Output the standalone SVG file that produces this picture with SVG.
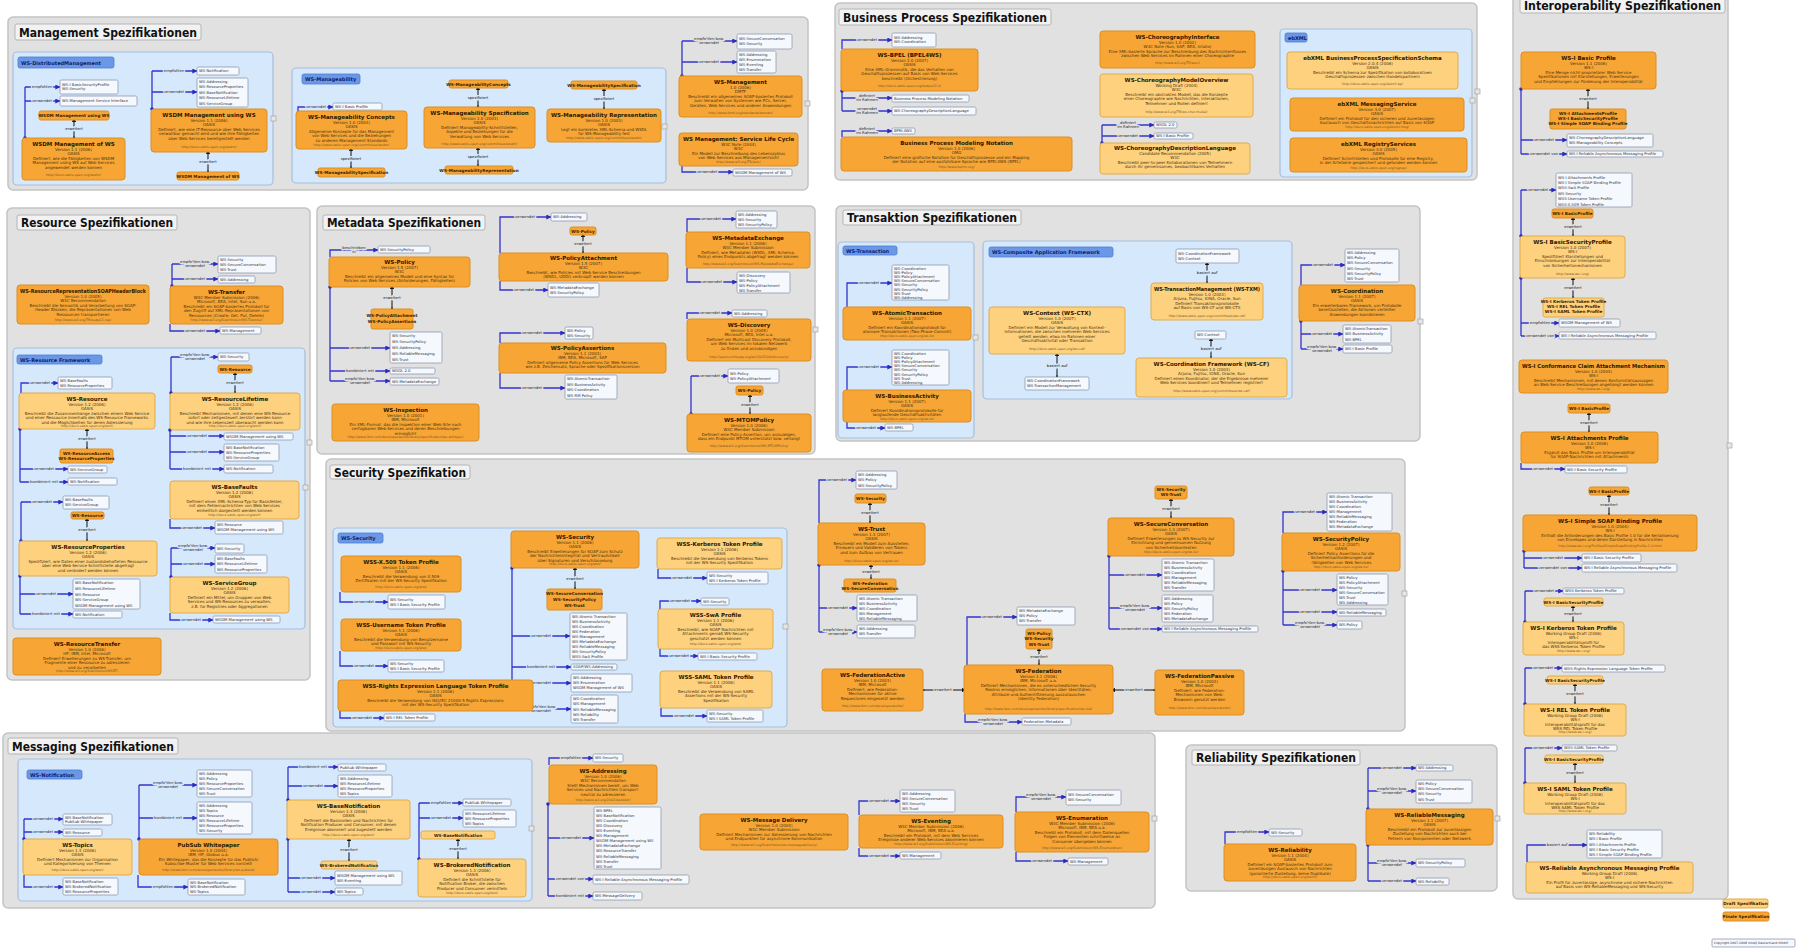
<svg xmlns="http://www.w3.org/2000/svg" width="1797" height="948" viewBox="0 0 1797 948">
<style>
.p{fill:#e1e1e1;stroke:#c3c3c3;stroke-width:1.5}
.ph{fill:#f2f2f2;stroke:#b5b5b5;stroke-width:1}
.s{fill:#d6e8fc;stroke:#a6bfdc;stroke-width:1.2}
.sl{fill:#6a98e6;stroke:#4f7fd0;stroke-width:.8}
.f{fill:#f7a635;stroke:#dc8e22;stroke-width:1}
.d{fill:#fdd17e;stroke:#e0ab4c;stroke-width:1}
.r{fill:#f5f9fd;stroke:#8d9aae;stroke-width:.8}
.cl{fill:#e6e6e6;stroke:#9a9a9a;stroke-width:.6}
.c{fill:none;stroke:#3434cc;stroke-width:1.3}
.k{fill:none;stroke:#111;stroke-width:1}
text{font-family:"DejaVu Sans","Liberation Sans",sans-serif}
.pt{font-size:12px;font-weight:bold;fill:#111}
.st{font-size:5px;font-weight:bold;fill:#10206a}
.t{font-size:5.5px;font-weight:bold;fill:#2a1800;text-anchor:middle}
.x{font-size:4px;fill:#4a3210;text-anchor:middle}
.u{font-size:3.3px;fill:#7a5424;text-anchor:middle}
.sm{font-size:4.2px;font-weight:bold;fill:#3a2200;text-anchor:middle}
.rt{font-size:3.8px;fill:#334}
.cp{font-size:3.1px;fill:#334}
.lg{font-size:3.8px;fill:#223;text-anchor:middle;paint-order:stroke;stroke:#e1e1e1;stroke-width:2.4}
.lb{font-size:3.8px;fill:#223;text-anchor:middle;paint-order:stroke;stroke:#d6e8fc;stroke-width:2.4}
.kl{font-size:3.8px;fill:#111;text-anchor:middle;paint-order:stroke;stroke:#e1e1e1;stroke-width:2.4}
.kb{font-size:3.8px;fill:#111;text-anchor:middle;paint-order:stroke;stroke:#d6e8fc;stroke-width:2.4}
</style>
<defs>
<marker id="a" viewBox="0 0 8 8" refX="7.5" refY="4" markerUnits="userSpaceOnUse" markerWidth="5" markerHeight="5" orient="auto"><path d="M0,0L8,4L0,8z" fill="#2a2ac0"/></marker>
<marker id="o" viewBox="0 0 6 6" refX="3" refY="3" markerUnits="userSpaceOnUse" markerWidth="3.6" markerHeight="3.6"><circle cx="3" cy="3" r="3" fill="#2a2ac0"/></marker>
<marker id="b" viewBox="0 0 8 8" refX="4" refY="4" markerUnits="userSpaceOnUse" markerWidth="4.5" markerHeight="4.5" orient="auto"><path d="M0,0L8,4L0,8z" fill="#111"/></marker>
</defs>
<rect width="1797" height="948" fill="#ffffff"/>

<!-- PANELS -->
<g id="panels">
<rect class="p" x="8" y="17" width="800" height="173" rx="5"/>
<rect class="ph" x="15" y="24" width="186" height="16" rx="2"/>
<text class="pt" x="19" y="36.5" textLength="178" lengthAdjust="spacingAndGlyphs">Management Spezifikationen</text>
<rect class="s" x="13" y="52" width="260" height="133" rx="4"/>
<rect class="sl" x="18" y="57" width="96" height="11" rx="2"/>
<text class="st" x="21" y="64.5">WS-DistributedManagement</text>
<rect class="s" x="292" y="68" width="374" height="115" rx="4"/>
<rect class="sl" x="302" y="74" width="58" height="10" rx="2"/>
<text class="st" x="305" y="81">WS-Manageability</text>

<rect class="p" x="835" y="3" width="642" height="177" rx="5"/>
<rect class="ph" x="839" y="9" width="212" height="16" rx="2"/>
<text class="pt" x="843" y="21.5" textLength="204" lengthAdjust="spacingAndGlyphs">Business Process Spezifikationen</text>
<rect class="s" x="1280" y="29" width="192" height="148" rx="4"/>
<rect class="sl" x="1285" y="33" width="22" height="9" rx="2"/>
<text class="st" x="1288" y="39.5">ebXML</text>

<rect class="p" x="1513" y="-4" width="215" height="903" rx="5"/>
<rect class="ph" x="1520" y="-2" width="205" height="15" rx="2"/>
<text class="pt" x="1524" y="9.5" textLength="197" lengthAdjust="spacingAndGlyphs">Interoperability Spezifikationen</text>

<rect class="p" x="7" y="208" width="303" height="472" rx="5"/>
<rect class="ph" x="17" y="215" width="160" height="15" rx="2"/>
<text class="pt" x="21" y="227" textLength="152" lengthAdjust="spacingAndGlyphs">Resource Spezifikationen</text>
<rect class="s" x="13" y="348" width="292" height="281" rx="4"/>
<rect class="sl" x="17" y="355" width="85" height="9" rx="2"/>
<text class="st" x="20" y="361.5">WS-Resource Framework</text>

<rect class="p" x="317" y="206" width="498" height="248" rx="5"/>
<rect class="ph" x="323" y="215" width="162" height="15" rx="2"/>
<text class="pt" x="327" y="227" textLength="154" lengthAdjust="spacingAndGlyphs">Metadata Spezifikationen</text>

<rect class="p" x="836" y="206" width="584" height="235" rx="5"/>
<rect class="ph" x="843" y="210" width="178" height="15" rx="2"/>
<text class="pt" x="847" y="222" textLength="170" lengthAdjust="spacingAndGlyphs">Transaktion Spezifikationen</text>
<rect class="s" x="838" y="242" width="136" height="196" rx="4"/>
<rect class="sl" x="843" y="246" width="54" height="9" rx="2"/>
<text class="st" x="846" y="252.5">WS-Transaction</text>
<rect class="s" x="983" y="241" width="309" height="158" rx="4"/>
<rect class="sl" x="989" y="247" width="124" height="10" rx="2"/>
<text class="st" x="992" y="254">WS-Composite Application Framework</text>

<rect class="p" x="326" y="459" width="1079" height="272" rx="5"/>
<rect class="ph" x="330" y="465" width="140" height="14" rx="2"/>
<text class="pt" x="334" y="476.5" textLength="132" lengthAdjust="spacingAndGlyphs">Security Spezifikation</text>
<rect class="s" x="333" y="528" width="454" height="199" rx="4"/>
<rect class="sl" x="338" y="533" width="45" height="10" rx="2"/>
<text class="st" x="341" y="540">WS-Security</text>

<rect class="p" x="3" y="733" width="1152" height="175" rx="5"/>
<rect class="ph" x="8" y="738" width="170" height="16" rx="2"/>
<text class="pt" x="12" y="750.5" textLength="162" lengthAdjust="spacingAndGlyphs">Messaging Spezifikationen</text>
<rect class="s" x="18" y="759" width="514" height="142" rx="4"/>
<rect class="sl" x="27" y="770" width="55" height="9" rx="2"/>
<text class="st" x="30" y="776.5">WS-Notification</text>

<rect class="p" x="1186" y="745" width="311" height="146" rx="5"/>
<rect class="ph" x="1192" y="750" width="168" height="15" rx="2"/>
<text class="pt" x="1196" y="762" textLength="160" lengthAdjust="spacingAndGlyphs">Reliability Spezifikationen</text>

<rect class="cl" x="271" y="116" width="5" height="5"/><rect class="cl" x="662" y="124" width="5" height="5"/><rect class="cl" x="805" y="101" width="5" height="5"/>
<rect class="cl" x="1475" y="89" width="5" height="5"/><rect class="cl" x="1470" y="98" width="5" height="5"/>
<rect class="cl" x="1727" y="443" width="5" height="5"/>
<rect class="cl" x="303" y="485" width="5" height="5"/><rect class="cl" x="307" y="440" width="5" height="5"/>
<rect class="cl" x="813" y="327" width="5" height="5"/>
<rect class="cl" x="973" y="335" width="5" height="5"/><rect class="cl" x="1418" y="319" width="5" height="5"/>
<rect class="cl" x="783" y="624" width="5" height="5"/><rect class="cl" x="1402" y="591" width="5" height="5"/>
<rect class="cl" x="529" y="826" width="5" height="5"/><rect class="cl" x="1152" y="816" width="5" height="5"/>
<rect class="cl" x="1495" y="816" width="5" height="5"/>
</g>

<!-- CONNECTORS -->
<g id="connectors">
<g class="c" marker-end="url(#a)">
<path d="M25,87H60"/><path d="M25,101H60"/><path d="M152,71H197"/><path d="M152,92H197"/>
<path d="M298,111V107H333"/><path d="M682,41H737"/><path d="M682,62H737"/><path d="M682,166V172H733"/>
<path d="M842,49V40H892"/><path d="M842,98H892"/><path d="M842,111H892"/><path d="M842,137V131H892"/>
<path d="M1102,125H1154"/><path d="M1102,136H1154"/>
<path d="M1521,140H1567"/><path d="M1521,154H1567"/><path d="M1521,190H1556"/><path d="M1521,323H1559"/><path d="M1521,336H1559"/>
<path d="M1521,463V469H1565"/><path d="M1524,558H1582"/><path d="M1524,568H1582"/><path d="M1525,591H1563"/>
<path d="M1525,668H1562"/><path d="M1525,748H1562"/><path d="M1527,862V845H1587"/>
<path d="M172,264H218"/><path d="M172,279H218"/><path d="M170,324V331H220"/><path d="M21,393V383H58"/>
<path d="M20,469H68"/><path d="M20,482H68"/><path d="M21,502H63"/><path d="M20,594H73"/><path d="M20,614H73"/>
<path d="M171,357H218"/><path d="M170,436H224"/><path d="M170,452H224"/><path d="M170,469H224"/>
<path d="M170,519V528H215"/><path d="M171,548H215"/><path d="M171,564H215"/><path d="M170,613V620H213"/>
<path d="M330,257V250H378"/><path d="M330,348H390"/><path d="M330,371H390"/><path d="M330,381H390"/>
<path d="M500,253V217H551"/><path d="M500,281V290H548"/><path d="M500,343V333H565"/><path d="M500,373V388H565"/>
<path d="M687,232V219H736"/><path d="M687,268V282H737"/><path d="M687,319V313H732"/><path d="M691,376H728"/>
<path d="M847,307V283H892"/><path d="M847,390V367H892"/><path d="M847,422V428H885"/>
<path d="M1301,285V265H1345"/><path d="M1301,334H1343"/><path d="M1301,349H1343"/>
<path d="M340,592V602H388"/><path d="M340,651V666H388"/><path d="M340,711V718H384"/>
<path d="M512,636H570"/><path d="M512,667H571"/><path d="M512,683H571"/><path d="M512,709H571"/>
<path d="M658,569V578H707"/><path d="M660,609V601H701"/><path d="M660,649V656H698"/><path d="M661,708V716H707"/>
<path d="M819,523V480H856"/><path d="M819,608H857"/><path d="M819,632H857"/>
<path d="M1109,575H1162"/><path d="M1109,608H1162"/><path d="M1109,629H1162"/>
<path d="M1283,533V512H1327"/><path d="M1283,590H1337"/><path d="M1283,612H1337"/><path d="M1283,625H1337"/>
<path d="M967,665V617H1017"/><path d="M965,714V722H1022"/>
<path d="M24,819H63"/><path d="M24,832H63"/><path d="M24,875V887H63"/>
<path d="M139,785H197"/><path d="M139,818H197"/><path d="M138,875V887H188"/>
<path d="M288,767H338"/><path d="M288,786H338"/><path d="M288,878H335"/><path d="M288,892H335"/>
<path d="M419,803H463"/><path d="M419,818H463"/>
<path d="M549,765V758H593"/><path d="M548,838H594"/><path d="M548,879H593"/><path d="M548,896H593"/>
<path d="M859,815V801H900"/><path d="M859,848V856H900"/><path d="M1016,812V797H1066"/><path d="M1016,852V861H1068"/>
<path d="M1225,844V832H1269"/><path d="M1368,768H1416"/><path d="M1368,791H1416"/><path d="M1368,863H1416"/><path d="M1368,881H1416"/>
</g>
<g class="c" marker-start="url(#o)">
<path d="M25,138V87"/><path d="M152,109V71"/><path d="M682,76V41"/><path d="M842,91V111"/><path d="M1102,143V125"/>
<path d="M1521,89V154"/><path d="M1521,236V190"/><path d="M1521,278V336"/><path d="M1524,551V568"/><path d="M1525,622V591"/>
<path d="M1525,704V668"/><path d="M1525,783V748"/>
<path d="M172,286V264"/><path d="M20,429V482"/><path d="M21,541V502"/><path d="M20,576V614"/><path d="M171,393V357"/>
<path d="M170,430V469"/><path d="M171,577V548"/><path d="M330,287V381"/><path d="M691,414V376"/>
<path d="M1301,321V349"/><path d="M512,568V709"/><path d="M819,565V632"/><path d="M1109,556V629"/><path d="M1283,571V625"/>
<path d="M24,839V819"/><path d="M139,839V785"/><path d="M288,800V767"/><path d="M288,839V892"/><path d="M419,859V803"/>
<path d="M548,804V896"/><path d="M1368,809V768"/><path d="M1368,845V881"/>
</g>
<g class="k" marker-start="url(#b)" marker-end="url(#b)">
<path d="M74,138V120"/><path d="M208,172V152"/><path d="M351,168V149"/><path d="M478,107V88"/><path d="M478,166V148"/><path d="M604,109V89"/>
<path d="M1588,109V89"/><path d="M1573,236V218"/><path d="M1573,298V278"/><path d="M1589,432V413"/><path d="M1609,515V495"/>
<path d="M1573,622V606"/><path d="M1575,704V684"/><path d="M1575,783V763"/>
<path d="M87,449V429"/><path d="M87,541V519"/><path d="M235,393V373"/>
<path d="M392,309V287"/><path d="M583,253V235"/><path d="M750,414V395"/>
<path d="M1207,283V263"/><path d="M1057,377V354"/><path d="M1211,358V339"/>
<path d="M575,589V568"/><path d="M870,523V503"/><path d="M871,579V565"/><path d="M1171,518V499"/><path d="M1039,665V649"/>
<path d="M923,690H964"/><path d="M1155,690H1113"/>
<path d="M349,861V839"/><path d="M458,859V839"/>
</g>
<!-- labels -->
<text class="lb" x="42" y="88.4">empfohlen</text><text class="lb" x="42" y="102.4">verwendet</text>
<text class="lb" x="174" y="72.4">empfohlen</text><text class="lb" x="174" y="93.4">verwendet</text>
<text class="lb" x="316" y="108.4">verwendet</text>
<text class="lg" x="709" y="40"><tspan x="709">empfohlen bzw.</tspan><tspan x="709" dy="4.2">verwendet</tspan></text>
<text class="lg" x="709" y="63.4">verwendet</text><text class="lg" x="707" y="173.4">verwendet</text>
<text class="lg" x="867" y="41.4">verwendet</text>
<text class="lg" x="867" y="97"><tspan x="867">definiert</tspan><tspan x="867" dy="4.2">im Rahmen</tspan></text>
<text class="lg" x="867" y="110"><tspan x="867">verwendet</tspan><tspan x="867" dy="4.2">im Rahmen</tspan></text>
<text class="lg" x="867" y="130"><tspan x="867">definiert</tspan><tspan x="867" dy="4.2">im Rahmen</tspan></text>
<text class="lg" x="1128" y="124"><tspan x="1128">definiert</tspan><tspan x="1128" dy="4.2">im Rahmen</tspan></text>
<text class="lg" x="1128" y="137.4">verwendet</text>
<text class="lg" x="1544" y="141.4">verwendet</text><text class="lg" x="1544" y="155.4">verwendet von</text>
<text class="lg" x="1538" y="191.4">verwendet</text><text class="lg" x="1540" y="324.4">empfohlen</text><text class="lg" x="1540" y="337.4">verwendet von</text>
<text class="lg" x="1543" y="470.4">verwendet</text><text class="lg" x="1553" y="559.4">verwendet</text><text class="lg" x="1553" y="569.4">verwendet von</text>
<text class="lg" x="1544" y="592.4">verwendet</text><text class="lg" x="1543" y="669.4">verwendet</text><text class="lg" x="1543" y="749.4">verwendet</text>
<text class="lg" x="1557" y="846.4">basiert auf</text>
<text class="lg" x="195" y="263"><tspan x="195">empfohlen bzw.</tspan><tspan x="195" dy="4.2">verwendet</tspan></text>
<text class="lg" x="195" y="280.4">verwendet</text><text class="lg" x="195" y="332.4">verwendet</text>
<text class="lb" x="40" y="384.4">verwendet</text><text class="lb" x="44" y="470.4">verwendet</text><text class="lb" x="44" y="483.4">kombiniert mit</text>
<text class="lb" x="42" y="503.4">verwendet</text><text class="lb" x="46" y="595.4">verwendet</text><text class="lb" x="46" y="615.4">kombiniert mit</text>
<text class="lb" x="195" y="356"><tspan x="195">empfohlen bzw.</tspan><tspan x="195" dy="4.2">verwendet</tspan></text>
<text class="lb" x="197" y="437.4">verwendet</text><text class="lb" x="197" y="453.4">verwendet</text><text class="lb" x="197" y="470.4">kombiniert mit</text>
<text class="lb" x="192" y="529.4">verwendet</text>
<text class="lb" x="193" y="547"><tspan x="193">empfohlen bzw.</tspan><tspan x="193" dy="4.2">verwendet</tspan></text>
<text class="lb" x="193" y="565.4">verwendet</text><text class="lb" x="191" y="621.4">verwendet</text>
<text class="lg" x="354" y="249"><tspan x="354">beschrieben</tspan><tspan x="354" dy="4.2">in</tspan></text>
<text class="lg" x="360" y="349.4">verwendet</text><text class="lg" x="360" y="372.4">kombiniert mit</text>
<text class="lg" x="360" y="380"><tspan x="360">empfohlen bzw.</tspan><tspan x="360" dy="4.2">verwendet</tspan></text>
<text class="lg" x="525" y="218.4">verwendet</text><text class="lg" x="524" y="291.4">verwendet</text>
<text class="lg" x="532" y="334.4">verwendet</text><text class="lg" x="532" y="389.4">verwendet</text>
<text class="lg" x="711" y="220.4">verwendet</text><text class="lg" x="712" y="283.4">verwendet</text>
<text class="lg" x="710" y="314.4">verwendet</text><text class="lg" x="710" y="377.4">verwendet</text>
<text class="lb" x="869" y="284.4">verwendet</text><text class="lb" x="869" y="368.4">verwendet</text><text class="lb" x="866" y="429.4">verwendet</text>
<text class="lg" x="1323" y="266.4">verwendet</text><text class="lg" x="1322" y="335.4">verwendet</text>
<text class="lg" x="1322" y="348"><tspan x="1322">empfohlen bzw.</tspan><tspan x="1322" dy="4.2">verwendet</tspan></text>
<text class="lb" x="364" y="603.4">verwendet</text><text class="lb" x="364" y="667.4">verwendet</text><text class="lb" x="362" y="719.4">verwendet</text>
<text class="lb" x="541" y="637.4">verwendet</text><text class="lb" x="541" y="668.4">kombiniert mit</text><text class="lb" x="541" y="684.4">verwendet</text>
<text class="lb" x="541" y="708"><tspan x="541">empfohlen bzw.</tspan><tspan x="541" dy="4.2">verwendet</tspan></text>
<text class="lb" x="682" y="579.4">verwendet</text><text class="lb" x="680" y="602.4">verwendet</text>
<text class="lb" x="679" y="657.4">verwendet</text><text class="lb" x="684" y="717.4">verwendet</text>
<text class="lg" x="837" y="481.4">verwendet</text><text class="lg" x="838" y="609.4">verwendet</text>
<text class="lg" x="838" y="631"><tspan x="838">empfohlen bzw.</tspan><tspan x="838" dy="4.2">verwendet</tspan></text>
<text class="lg" x="1135" y="576.4">verwendet</text>
<text class="lg" x="1135" y="607"><tspan x="1135">empfohlen bzw.</tspan><tspan x="1135" dy="4.2">verwendet</tspan></text>
<text class="lg" x="1135" y="630.4">verwendet von</text>
<text class="lg" x="1305" y="513.4">verwendet</text><text class="lg" x="1310" y="591.4">verwendet</text><text class="lg" x="1310" y="613.4">verwendet</text>
<text class="lg" x="1310" y="624"><tspan x="1310">empfohlen bzw.</tspan><tspan x="1310" dy="4.2">verwendet</tspan></text>
<text class="lg" x="992" y="618.4">verwendet</text>
<text class="lg" x="993" y="721"><tspan x="993">empfohlen bzw.</tspan><tspan x="993" dy="4.2">verwendet</tspan></text>
<text class="lb" x="43" y="820.4">verwendet</text><text class="lb" x="43" y="833.4">verwendet</text><text class="lb" x="43" y="888.4">verwendet</text>
<text class="lb" x="168" y="784"><tspan x="168">empfohlen bzw.</tspan><tspan x="168" dy="4.2">verwendet</tspan></text>
<text class="lb" x="168" y="819.4">kombiniert mit</text><text class="lb" x="163" y="888.4">empfohlen</text>
<text class="lb" x="313" y="768.4">kombiniert mit</text><text class="lb" x="313" y="787.4">verwendet</text>
<text class="lb" x="311" y="879.4">verwendet</text><text class="lb" x="311" y="893.4">verwendet</text>
<text class="lb" x="441" y="804.4">empfohlen</text><text class="lb" x="441" y="819.4">verwendet</text>
<text class="lg" x="571" y="759.4">empfohlen</text><text class="lg" x="571" y="839.4">verwendet</text>
<text class="lg" x="570" y="880.4">verwendet von</text><text class="lg" x="570" y="897.4">kombiniert mit</text>
<text class="lg" x="879" y="802.4">verwendet</text><text class="lg" x="879" y="857.4">verwendet</text>
<text class="lg" x="1041" y="796"><tspan x="1041">empfohlen bzw.</tspan><tspan x="1041" dy="4.2">verwendet</tspan></text>
<text class="lg" x="1042" y="862.4">verwendet</text>
<text class="lg" x="1247" y="833.4">empfohlen</text><text class="lg" x="1392" y="769.4">verwendet</text>
<text class="lg" x="1392" y="790"><tspan x="1392">empfohlen bzw.</tspan><tspan x="1392" dy="4.2">verwendet</tspan></text>
<text class="lg" x="1392" y="862"><tspan x="1392">empfohlen bzw.</tspan><tspan x="1392" dy="4.2">verwendet</tspan></text>
<text class="lg" x="1392" y="882.4">verwendet</text>
<!-- black labels -->
<text class="kb" x="74" y="130.4">erweitert</text><text class="kb" x="208" y="163.4">erweitert</text>
<text class="kb" x="351" y="159.9">spezifiziert</text><text class="kb" x="478" y="98.9">spezifiziert</text><text class="kb" x="478" y="158.4">spezifiziert</text><text class="kb" x="604" y="100.4">spezifiziert</text>
<text class="kl" x="1588" y="100.4">erweitert</text><text class="kl" x="1573" y="228.4">erweitert</text><text class="kl" x="1573" y="289.4">erweitert</text>
<text class="kl" x="1589" y="423.9">erweitert</text><text class="kl" x="1609" y="506.4">erweitert</text><text class="kl" x="1573" y="615.4">erweitert</text>
<text class="kl" x="1575" y="695.4">erweitert</text><text class="kl" x="1575" y="774.4">erweitert</text>
<text class="kb" x="87" y="440.4">erweitert</text><text class="kb" x="87" y="531.4">erweitert</text><text class="kb" x="235" y="384.4">erweitert</text>
<text class="kl" x="392" y="299.4">erweitert</text><text class="kl" x="583" y="245.4">erweitert</text><text class="kl" x="750" y="406">erweitert</text>
<text class="kb" x="1207" y="274.4">basiert auf</text><text class="kb" x="1057" y="366.9">basiert auf</text><text class="kb" x="1211" y="349.9">basiert auf</text>
<text class="kb" x="575" y="579.9">erweitert</text><text class="kl" x="870" y="514.4">erweitert</text><text class="kl" x="871" y="573.4">erweitert</text>
<text class="kl" x="1171" y="509.9">erweitert</text><text class="kl" x="1039" y="658.4">erweitert</text>
<text class="kl" x="943" y="691.4">erweitert</text><text class="kl" x="1134" y="691.4">erweitert</text>
<text class="kb" x="349" y="851.4">erweitert</text><text class="kb" x="458" y="850.4">erweitert</text>
</g>

<!-- MANAGEMENT NODES -->
<g id="n-mg-r1"><rect class="r" x="60" y="80" width="58" height="14" rx="1.5"/><text class="rt" x="62" y="85.5">WS-I BasicSecurityProfile<tspan x="62" dy="4.6">WS-Security</tspan></text></g>
<g id="n-mg-r2"><rect class="r" x="60" y="96" width="77" height="10" rx="1.5"/><text class="rt" x="62" y="102.3">WS-Management Service Interface</text></g>
<g id="n-mg-s1"><rect class="f" x="39" y="111" width="70" height="9" rx="2"/><text class="sm" x="74" y="117">WSDM Management using WS</text></g>
<g id="n-mows"><rect class="f" x="22" y="138" width="103" height="42" rx="3"/><text class="t" x="73.5" y="145.5">WSDM Management of WS</text><text class="x" x="73.5" y="150.5">Version 1.1 (2006)<tspan x="73.5" dy="4.5">OASIS</tspan><tspan x="73.5" dy="4.5">Definiert, wie die Fähigkeiten von WSDM</tspan><tspan x="73.5" dy="4.5">Management using WS auf Web Services</tspan><tspan x="73.5" dy="4.5">angewendet werden können</tspan></text><text class="u" x="73.5" y="175.5">http://docs.oasis-open.org/wsdm/</text></g>
<g id="n-mg-r3"><rect class="r" x="197" y="67" width="42" height="8" rx="1.5"/><text class="rt" x="199" y="72.4">WS-Notification</text></g>
<g id="n-mg-r4"><rect class="r" x="197" y="78" width="51" height="29" rx="1.5"/><text class="rt" x="199" y="83">WS-Addressing<tspan x="199" dy="5.4">WS-ResourceProperties</tspan><tspan x="199" dy="5.4">WS-BaseNotification</tspan><tspan x="199" dy="5.4">WS-ResourceLifetime</tspan><tspan x="199" dy="5.4">WS-ServiceGroup</tspan></text></g>
<g id="n-muws"><rect class="f" x="151" y="109" width="116" height="43" rx="3"/><text class="t" x="209" y="116.5">WSDM Management using WS</text><text class="x" x="209" y="121.5">Version 1.1 (2006)<tspan x="209" dy="4.5">OASIS</tspan><tspan x="209" dy="4.5">Definiert, wie eine IT-Ressource über Web Services</tspan><tspan x="209" dy="4.5">verwaltbar gemacht wird und wie ihre Fähigkeiten</tspan><tspan x="209" dy="4.5">über Web Services bereitgestellt werden</tspan></text><text class="u" x="209" y="147.5">http://docs.oasis-open.org/wsdm/</text></g>
<g id="n-mg-s2"><rect class="f" x="177" y="172" width="62" height="8" rx="2"/><text class="sm" x="208" y="177.6">WSDM Management of WS</text></g>
<g id="n-ma-r1"><rect class="r" x="333" y="103" width="49" height="7" rx="1.5"/><text class="rt" x="335" y="107.9">WS-I Basic Profile</text></g>
<g id="n-ma-conc"><rect class="f" x="296" y="111" width="111" height="38" rx="3"/><text class="t" x="351.5" y="118.5">WS-Manageability Concepts</text><text class="x" x="351.5" y="123.5">Version 1.0 (2003)<tspan x="351.5" dy="4.5">OASIS</tspan><tspan x="351.5" dy="4.5">Allgemeine Konzepte für das Management</tspan><tspan x="351.5" dy="4.5">von Web Services und die Beziehungen</tspan><tspan x="351.5" dy="4.5">zu anderen Management-Standards</tspan></text><text class="u" x="351.5" y="145.5">http://www.oasis-open.org/committees/wsdm/</text></g>
<g id="n-ma-s1"><rect class="f" x="318" y="168" width="67" height="9" rx="2"/><text class="sm" x="351.5" y="174">WS-ManageabilitySpecification</text></g>
<g id="n-ma-s2"><rect class="f" x="449" y="80" width="59" height="8" rx="2"/><text class="sm" x="478.5" y="85.6">WS-ManageabilityConcepts</text></g>
<g id="n-ma-spec"><rect class="f" x="424" y="107" width="111" height="41" rx="3"/><text class="t" x="479.5" y="114.5">WS-Manageability Specification</text><text class="x" x="479.5" y="119.5">Version 1.0 (2003)<tspan x="479.5" dy="4.5">OASIS</tspan><tspan x="479.5" dy="4.5">Definiert Manageability-Schnittstellen,</tspan><tspan x="479.5" dy="4.5">Aspekte und Beziehungen für die</tspan><tspan x="479.5" dy="4.5">Verwaltung von Web Services</tspan></text><text class="u" x="479.5" y="144.5">http://www.oasis-open.org/committees/wsdm/</text></g>
<g id="n-ma-s3"><rect class="f" x="445" y="166" width="68" height="8" rx="2"/><text class="sm" x="479" y="171.6">WS-ManageabilityRepresentation</text></g>
<g id="n-ma-s4"><rect class="f" x="571" y="81" width="66" height="8" rx="2"/><text class="sm" x="604" y="86.6">WS-ManageabilitySpecification</text></g>
<g id="n-ma-rep"><rect class="f" x="547" y="109" width="114" height="33" rx="3"/><text class="t" x="604" y="116.5">WS-Manageability Representation</text><text class="x" x="604" y="121.5">Version 1.0 (2003)<tspan x="604" dy="4.5">OASIS</tspan><tspan x="604" dy="4.5">Legt ein konkretes XML-Schema und WSDL</tspan><tspan x="604" dy="4.5">für WS-Manageability fest</tspan></text><text class="u" x="604" y="139">http://www.oasis-open.org/committees/wsdm/</text></g>
<g id="n-wsman-r1"><rect class="r" x="737" y="34" width="55" height="15" rx="1.5"/><text class="rt" x="739" y="40">WS-SecureConversation<tspan x="739" dy="5">WS-Security</tspan></text></g>
<g id="n-wsman-r2"><rect class="r" x="737" y="51" width="39" height="22" rx="1.5"/><text class="rt" x="739" y="56.3">WS-Addressing<tspan x="739" dy="5">WS-Enumeration</tspan><tspan x="739" dy="5">WS-Eventing</tspan><tspan x="739" dy="5">WS-Transfer</tspan></text></g>
<g id="n-wsman"><rect class="f" x="679" y="76" width="123" height="41" rx="3"/><text class="t" x="740.5" y="83.5">WS-Management</text><text class="x" x="740.5" y="88.5">1.0 (2006)<tspan x="740.5" dy="4.5">DMTF</tspan><tspan x="740.5" dy="4.5">Beschreibt ein allgemeines SOAP-basiertes Protokoll</tspan><tspan x="740.5" dy="4.5">zum Verwalten von Systemen wie PCs, Server,</tspan><tspan x="740.5" dy="4.5">Geräten, Web Services und anderer Anwendungen</tspan></text><text class="u" x="740.5" y="113.5">http://www.dmtf.org/standards/wsman/</text></g>
<g id="n-wslc"><rect class="f" x="679" y="133" width="119" height="33" rx="3"/><text class="t" x="738.5" y="140.5">WS Management: Service Life Cycle</text><text class="x" x="738.5" y="145.5">W3C Note (2004)<tspan x="738.5" dy="4.5">W3C</tspan><tspan x="738.5" dy="4.5">Ein Modell zur Beschreibung des Lebenszyklus</tspan><tspan x="738.5" dy="4.5">von Web Services aus Managementsicht</tspan></text><text class="u" x="738.5" y="162.5">http://www.w3.org/TR/wslc/</text></g>
<g id="n-wslc-r"><rect class="r" x="733" y="169" width="59" height="7" rx="1.5"/><text class="rt" x="735" y="173.9">WSDM Management of WS</text></g>

<!-- BUSINESS PROCESS NODES -->
<g id="n-bpel-r"><rect class="r" x="892" y="33" width="44" height="14" rx="1.5"/><text class="rt" x="894" y="38.6">WS-Addressing<tspan x="894" dy="4.6">WS-Coordination</tspan></text></g>
<g id="n-bpel"><rect class="f" x="841" y="49" width="137" height="42" rx="3"/><text class="t" x="909.5" y="56.5">WS-BPEL (BPEL4WS)</text><text class="x" x="909.5" y="61.5">Version 2.0 (2007)<tspan x="909.5" dy="4.5">OASIS</tspan><tspan x="909.5" dy="4.5">Eine XML-Grammatik, die das Verhalten von</tspan><tspan x="909.5" dy="4.5">Geschäftsprozessen auf Basis von Web Services</tspan><tspan x="909.5" dy="4.5">beschreibt (Orchestrierung)</tspan></text><text class="u" x="909.5" y="87">http://docs.oasis-open.org/wsbpel/2.0/</text></g>
<g id="n-bpel-r2"><rect class="r" x="892" y="95" width="77" height="7" rx="1.5"/><text class="rt" x="894" y="99.9">Business Process Modeling Notation</text></g>
<g id="n-bpel-r3"><rect class="r" x="892" y="107" width="84" height="8" rx="1.5"/><text class="rt" x="894" y="112.4">WS-ChoreographyDescriptionLanguage</text></g>
<g id="n-bpmn-r"><rect class="r" x="892" y="128" width="23" height="6" rx="1.5"/><text class="rt" x="894" y="132.4">BPEL4WS</text></g>
<g id="n-bpmn"><rect class="f" x="841" y="137" width="231" height="34" rx="3"/><text class="t" x="956.5" y="144.5">Business Process Modeling Notation</text><text class="x" x="956.5" y="149.5">Version 1.0 (2006)<tspan x="956.5" dy="4.5">OMG</tspan><tspan x="956.5" dy="4.5">Definiert eine grafische Notation für Geschäftsprozesse und ein Mapping</tspan><tspan x="956.5" dy="4.5">der Notation auf eine ausführbare Sprache wie BPEL4WS (BPEL)</tspan></text><text class="u" x="956.5" y="167.5">http://www.bpmn.org/</text></g>
<g id="n-wsci"><rect class="f" x="1100" y="31" width="155" height="37" rx="3"/><text class="t" x="1177.5" y="38.5">WS-ChoreographyInterface</text><text class="x" x="1177.5" y="43.5">Version 1.0 (2002)<tspan x="1177.5" dy="4.5">W3C Note (Sun, SAP, BEA, Intalio)</tspan><tspan x="1177.5" dy="4.5">Eine XML-basierte Sprache zur Beschreibung des Nachrichtenflusses</tspan><tspan x="1177.5" dy="4.5">zwischen Web Services im Rahmen einer Choreographie</tspan></text><text class="u" x="1177.5" y="64">http://www.w3.org/TR/wsci/</text></g>
<g id="n-wscmo"><rect class="d" x="1100" y="74" width="153" height="43" rx="3"/><text class="t" x="1176.5" y="81.5">WS-ChoreographyModelOverview</text><text class="x" x="1176.5" y="86.5">Working Draft (2004)<tspan x="1176.5" dy="4.5">W3C</tspan><tspan x="1176.5" dy="4.5">Beschreibt ein abstraktes Modell, das die Konzepte</tspan><tspan x="1176.5" dy="4.5">einer Choreographie wie Nachrichten, Interaktionen,</tspan><tspan x="1176.5" dy="4.5">Teilnehmer und Rollen definiert</tspan></text><text class="u" x="1176.5" y="112.5">http://www.w3.org/TR/ws-chor-model/</text></g>
<g id="n-wscdl-r1"><rect class="r" x="1154" y="122" width="23" height="6" rx="1.5"/><text class="rt" x="1156" y="126.4">WSDL 2.0</text></g>
<g id="n-wscdl-r2"><rect class="r" x="1154" y="133" width="39" height="6" rx="1.5"/><text class="rt" x="1156" y="137.4">WS-I Basic Profile</text></g>
<g id="n-wscdl"><rect class="d" x="1100" y="143" width="150" height="31" rx="3"/><text class="t" x="1175" y="150">WS-ChoreographyDescriptionLanguage</text><text class="x" x="1175" y="155">Candidate Recommendation (2005)<tspan x="1175" dy="4.4">W3C</tspan><tspan x="1175" dy="4.4">Beschreibt peer-to-peer Kollaborationen von Teilnehmern</tspan><tspan x="1175" dy="4.4">durch ihr gemeinsames, beobachtbares Verhalten</tspan></text></g>
<g id="n-bpss"><rect class="d" x="1287" y="52" width="171" height="37" rx="3"/><text class="t" x="1372.5" y="59.5">ebXML BusinessProcessSpecificationSchema</text><text class="x" x="1372.5" y="64.5">Version 2.0.4 (2006)<tspan x="1372.5" dy="4.5">OASIS</tspan><tspan x="1372.5" dy="4.5">Beschreibt ein Schema zur Spezifikation von kollaborativen</tspan><tspan x="1372.5" dy="4.5">Geschäftsprozessen zwischen Handelspartnern</tspan></text><text class="u" x="1372.5" y="85">http://docs.oasis-open.org/ebxml-bp/</text></g>
<g id="n-ebms"><rect class="f" x="1290" y="98" width="174" height="33" rx="3"/><text class="t" x="1377" y="105.5">ebXML MessagingService</text><text class="x" x="1377" y="110.5">Version 3.0 (2007)<tspan x="1377" dy="4.5">OASIS</tspan><tspan x="1377" dy="4.5">Definiert ein Protokoll für den sicheren und zuverlässigen</tspan><tspan x="1377" dy="4.5">Austausch von Geschäftsnachrichten auf Basis von SOAP</tspan></text><text class="u" x="1377" y="128">http://docs.oasis-open.org/ebxml-msg/</text></g>
<g id="n-ebrs"><rect class="f" x="1290" y="138" width="177" height="34" rx="3"/><text class="t" x="1378.5" y="145.5">ebXML RegistryServices</text><text class="x" x="1378.5" y="150.5">Version 3.0 (2005)<tspan x="1378.5" dy="4.5">OASIS</tspan><tspan x="1378.5" dy="4.5">Definiert Schnittstellen und Protokolle für eine Registry,</tspan><tspan x="1378.5" dy="4.5">in der Artefakte gespeichert und gefunden werden können</tspan></text><text class="u" x="1378.5" y="168.5">http://docs.oasis-open.org/regrep/</text></g>

<!-- INTEROPERABILITY NODES -->
<g id="n-bp"><rect class="f" x="1521" y="52" width="135" height="37" rx="3"/><text class="t" x="1588.5" y="59.5">WS-I Basic Profile</text><text class="x" x="1588.5" y="64.5">Version 1.1 (2006)<tspan x="1588.5" dy="4.5">WS-I</tspan><tspan x="1588.5" dy="4.5">Eine Menge nicht-proprietärer Web Service</tspan><tspan x="1588.5" dy="4.5">Spezifikationen mit Klarstellungen, Erweiterungen</tspan><tspan x="1588.5" dy="4.5">und Empfehlungen zur Förderung der Interoperabilität</tspan></text></g>
<g id="n-bp-s"><rect class="f" x="1550" y="109" width="76" height="20" rx="2"/><text class="sm" x="1588" y="114.5">WS-I AttachmentsProfile<tspan x="1588" dy="5.2">WS-I BasicSecurityProfile</tspan><tspan x="1588" dy="5.2">WS-I Simple SOAP Binding Profile</tspan></text></g>
<g id="n-bp-r1"><rect class="r" x="1567" y="134" width="86" height="13" rx="1.5"/><text class="rt" x="1569" y="139.4">WS-ChoreographyDescriptionLanguage<tspan x="1569" dy="4.8">WS-Manageability Concepts</tspan></text></g>
<g id="n-bp-r2"><rect class="r" x="1567" y="151" width="96" height="6" rx="1.5"/><text class="rt" x="1569" y="155.4">WS-I Reliable Asynchronous Messaging Profile</text></g>
<g id="n-bsp-r1"><rect class="r" x="1556" y="173" width="76" height="34" rx="1.5"/><text class="rt" x="1558" y="178.5">WS-I Attachments Profile<tspan x="1558" dy="5.4">WS-I Simple SOAP Binding Profile</tspan><tspan x="1558" dy="5.4">WSS-SwA Profile</tspan><tspan x="1558" dy="5.4">WS-Security</tspan><tspan x="1558" dy="5.4">WSS-Username Token Profile</tspan><tspan x="1558" dy="5.4">WSS-X.509 Token Profile</tspan></text></g>
<g id="n-bsp-s"><rect class="f" x="1552" y="209" width="41" height="9" rx="2"/><text class="sm" x="1572.5" y="215">WS-I BasicProfile</text></g>
<g id="n-bsp"><rect class="d" x="1520" y="236" width="105" height="42" rx="3"/><text class="t" x="1572.5" y="243.5">WS-I BasicSecurityProfile</text><text class="x" x="1572.5" y="248.5">Version 1.0 (2007)<tspan x="1572.5" dy="4.5">WS-I</tspan><tspan x="1572.5" dy="4.5">Spezifiziert Klarstellungen und</tspan><tspan x="1572.5" dy="4.5">Einschränkungen zur Interoperabilität</tspan><tspan x="1572.5" dy="4.5">von Sicherheitsmechanismen</tspan></text><text class="u" x="1572.5" y="274.5">http://www.ws-i.org/</text></g>
<g id="n-bsp-s2"><rect class="d" x="1543" y="298" width="61" height="19" rx="2"/><text class="sm" x="1573.5" y="303.3">WS-I Kerberos Token Profile<tspan x="1573.5" dy="5">WS-I REL Token Profile</tspan><tspan x="1573.5" dy="5">WS-I SAML Token Profile</tspan></text></g>
<g id="n-bsp-r2"><rect class="r" x="1559" y="319" width="61" height="8" rx="1.5"/><text class="rt" x="1561" y="324.4">WSDM Management of WS</text></g>
<g id="n-bsp-r3"><rect class="r" x="1559" y="332" width="97" height="7" rx="1.5"/><text class="rt" x="1561" y="336.9">WS-I Reliable Asynchronous Messaging Profile</text></g>
<g id="n-ccam"><rect class="f" x="1519" y="360" width="149" height="33" rx="3"/><text class="t" x="1593.5" y="367.5" textLength="143" lengthAdjust="spacingAndGlyphs">WS-I Conformance Claim Attachment Mechanism</text><text class="x" x="1593.5" y="372.5">Version 1.0 (2004)<tspan x="1593.5" dy="4.5">WS-I</tspan><tspan x="1593.5" dy="4.5">Beschreibt Mechanismen, mit denen Konformitätsaussagen</tspan><tspan x="1593.5" dy="4.5">an Web Service Beschreibungen angehängt werden können</tspan></text><text class="u" x="1593.5" y="390">http://www.ws-i.org/</text></g>
<g id="n-ap-s"><rect class="f" x="1568" y="404" width="42" height="9" rx="2"/><text class="sm" x="1589" y="410">WS-I BasicProfile</text></g>
<g id="n-ap"><rect class="f" x="1521" y="432" width="137" height="31" rx="3"/><text class="t" x="1589.5" y="439.5">WS-I Attachments Profile</text><text class="x" x="1589.5" y="444.5">Version 1.0 (2006)<tspan x="1589.5" dy="4.5">WS-I</tspan><tspan x="1589.5" dy="4.5">Ergänzt das Basic Profile um Interoperabilität</tspan><tspan x="1589.5" dy="4.5">für SOAP-Nachrichten mit Attachments</tspan></text></g>
<g id="n-ap-r"><rect class="r" x="1565" y="466" width="62" height="7" rx="1.5"/><text class="rt" x="1567" y="470.9">WS-I Basic Security Profile</text></g>
<g id="n-ssbp-s"><rect class="f" x="1589" y="487" width="40" height="8" rx="2"/><text class="sm" x="1609" y="492.6">WS-I BasicProfile</text></g>
<g id="n-ssbp"><rect class="f" x="1523" y="515" width="174" height="36" rx="3"/><text class="t" x="1610" y="522.5">WS-I Simple SOAP Binding Profile</text><text class="x" x="1610" y="527.5">Version 1.0 (2004)<tspan x="1610" dy="4.5">WS-I</tspan><tspan x="1610" dy="4.5">Enthält die Anforderungen des Basic Profile 1.0 für die Serialisierung</tspan><tspan x="1610" dy="4.5">von Envelopes und deren Darstellung in Nachrichten</tspan></text><text class="u" x="1610" y="547">http://www.ws-i.org/Profiles/SimpleSoapBindingProfile-1.0.html</text></g>
<g id="n-ssbp-r1"><rect class="r" x="1582" y="554" width="59" height="8" rx="1.5"/><text class="rt" x="1584" y="559.4">WS-I Basic Security Profile</text></g>
<g id="n-ssbp-r2"><rect class="r" x="1582" y="564" width="95" height="8" rx="1.5"/><text class="rt" x="1584" y="569.4">WS-I Reliable Asynchronous Messaging Profile</text></g>
<g id="n-ktp-r"><rect class="r" x="1563" y="588" width="61" height="6" rx="1.5"/><text class="rt" x="1565" y="592.4">WSS-Kerberos Token Profile</text></g>
<g id="n-ktp-s"><rect class="d" x="1544" y="598" width="59" height="8" rx="2"/><text class="sm" x="1573.5" y="603.6">WS-I BasicSecurityProfile</text></g>
<g id="n-ktp"><rect class="d" x="1523" y="622" width="101" height="33" rx="3"/><text class="t" x="1573.5" y="629.5">WS-I Kerberos Token Profile</text><text class="x" x="1573.5" y="634.5">Working Group Draft (2006)<tspan x="1573.5" dy="4.5">WS-I</tspan><tspan x="1573.5" dy="4.5">Interoperabilitätsprofil für</tspan><tspan x="1573.5" dy="4.5">das WSS Kerberos Token Profile</tspan></text><text class="u" x="1573.5" y="652">http://www.ws-i.org/</text></g>
<g id="n-rel-r"><rect class="r" x="1562" y="665" width="103" height="7" rx="1.5"/><text class="rt" x="1564" y="669.9">WSS-Rights Expression Language Token Profile</text></g>
<g id="n-rel-s"><rect class="d" x="1547" y="676" width="56" height="8" rx="2"/><text class="sm" x="1575" y="681.6">WS-I BasicSecurityProfile</text></g>
<g id="n-reltp"><rect class="d" x="1524" y="704" width="102" height="32" rx="3"/><text class="t" x="1575" y="711.5">WS-I REL Token Profile</text><text class="x" x="1575" y="716.5">Working Group Draft (2006)<tspan x="1575" dy="4.5">WS-I</tspan><tspan x="1575" dy="4.5">Interoperabilitätsprofil für das</tspan><tspan x="1575" dy="4.5">WSS REL Token Profile</tspan></text><text class="u" x="1575" y="733">http://www.ws-i.org/</text></g>
<g id="n-saml-r"><rect class="r" x="1562" y="745" width="55" height="6" rx="1.5"/><text class="rt" x="1564" y="749.4">WSS-SAML Token Profile</text></g>
<g id="n-saml-s"><rect class="d" x="1545" y="755" width="58" height="8" rx="2"/><text class="sm" x="1574" y="760.6">WS-I BasicSecurityProfile</text></g>
<g id="n-samltp"><rect class="d" x="1524" y="783" width="102" height="31" rx="3"/><text class="t" x="1575" y="790.5">WS-I SAML Token Profile</text><text class="x" x="1575" y="795.5">Working Group Draft (2006)<tspan x="1575" dy="4.5">WS-I</tspan><tspan x="1575" dy="4.5">Interoperabilitätsprofil für das</tspan><tspan x="1575" dy="4.5">WSS SAML Token Profile</tspan></text><text class="u" x="1575" y="811.5">http://www.ws-i.org/</text></g>
<g id="n-ramp-r"><rect class="r" x="1587" y="830" width="75" height="28" rx="1.5"/><text class="rt" x="1589" y="835">WS-Reliability<tspan x="1589" dy="5.3">WS-I Basic Profile</tspan><tspan x="1589" dy="5.3">WS-I Attachments Profile</tspan><tspan x="1589" dy="5.3">WS-I Basic Security Profile</tspan><tspan x="1589" dy="5.3">WS-I Simple SOAP Binding Profile</tspan></text></g>
<g id="n-ramp"><rect class="d" x="1526" y="862" width="167" height="31" rx="3"/><text class="t" x="1609.5" y="869.5">WS-Reliable Asynchronous Messaging Profile</text><text class="x" x="1609.5" y="874.5">Working Group Draft (2006)<tspan x="1609.5" dy="4.5">WS-I</tspan><tspan x="1609.5" dy="4.5">Ein Profil für zuverlässige, asynchrone und sichere Nachrichten</tspan><tspan x="1609.5" dy="4.5">auf Basis von WS-ReliableMessaging und WS-Security</tspan></text></g>
<g id="legend"><rect class="d" x="1723" y="899" width="45" height="9" rx="2"/><text class="sm" x="1745.5" y="905">Draft Spezifikation</text><rect class="f" x="1723" y="912" width="46" height="9" rx="2"/><text class="sm" x="1746" y="918">Finale Spezifikation</text><rect class="r" x="1712" y="939" width="83" height="8" rx="1"/><text class="cp" x="1714" y="944.2">Copyright 2007-2008 innoQ Deutschland GmbH</text></g>

<!-- RESOURCE NODES -->
<g id="n-rrshb"><rect class="f" x="17" y="285" width="132" height="39" rx="3"/><text class="t" x="83" y="292.5" textLength="126" lengthAdjust="spacingAndGlyphs">WS-ResourceRepresentationSOAPHeaderBlock</text><text class="x" x="83" y="297.5">Version 1.0 (2005)<tspan x="83" dy="4.5">W3C Recommendation</tspan><tspan x="83" dy="4.5">Beschreibt die Semantik und Verarbeitung von SOAP-</tspan><tspan x="83" dy="4.5">Header Blöcken, die Repräsentationen von Web</tspan><tspan x="83" dy="4.5">Ressourcen transportieren</tspan></text><text class="u" x="83" y="320.5">http://www.w3.org/TR/soap12-rep/</text></g>
<g id="n-tr-r1"><rect class="r" x="218" y="256" width="58" height="17" rx="1.5"/><text class="rt" x="220" y="261">WS-Security<tspan x="220" dy="5">WS-SecureConversation</tspan><tspan x="220" dy="5">WS-Trust</tspan></text></g>
<g id="n-tr-r2"><rect class="r" x="218" y="276" width="37" height="7" rx="1.5"/><text class="rt" x="220" y="280.9">WS-Addressing</text></g>
<g id="n-transfer"><rect class="f" x="170" y="286" width="113" height="38" rx="3"/><text class="t" x="226.5" y="293.5">WS-Transfer</text><text class="x" x="226.5" y="298.5">W3C Member Submission (2006)<tspan x="226.5" dy="4.5">Microsoft, BEA, Intel, Sun u.a.</tspan><tspan x="226.5" dy="4.5">Beschreibt ein SOAP-basiertes Protokoll für</tspan><tspan x="226.5" dy="4.5">den Zugriff auf XML-Repräsentationen von</tspan><tspan x="226.5" dy="4.5">Ressourcen (Create, Get, Put, Delete)</tspan></text><text class="u" x="226.5" y="321">http://www.w3.org/Submission/WS-Transfer/</text></g>
<g id="n-tr-r3"><rect class="r" x="220" y="327" width="41" height="7" rx="1.5"/><text class="rt" x="222" y="331.9">WS-Management</text></g>
<g id="n-res-r1"><rect class="r" x="58" y="377" width="54" height="12" rx="1.5"/><text class="rt" x="60" y="382">WS-BaseFaults<tspan x="60" dy="4.6">WS-ResourceProperties</tspan></text></g>
<g id="n-resource"><rect class="d" x="19" y="393" width="136" height="36" rx="3"/><text class="t" x="87" y="400.5">WS-Resource</text><text class="x" x="87" y="405.5">Version 1.2 (2006)<tspan x="87" dy="4.5">OASIS</tspan><tspan x="87" dy="4.5">Beschreibt die Zusammenhänge zwischen einem Web Service</tspan><tspan x="87" dy="4.5">und einer Ressource innerhalb des WS-Resource Frameworks</tspan><tspan x="87" dy="4.5">und die Möglichkeiten für deren Adressierung</tspan></text><text class="u" x="87" y="426.5">http://docs.oasis-open.org/wsrf/</text></g>
<g id="n-res-s1"><rect class="f" x="60" y="449" width="53" height="14" rx="2"/><text class="sm" x="86.5" y="455">WS-ResourceAccess<tspan x="86.5" dy="5">WS-ResourceProperties</tspan></text></g>
<g id="n-res-r2"><rect class="r" x="68" y="466" width="39" height="7" rx="1.5"/><text class="rt" x="70" y="470.9">WS-ServiceGroup</text></g>
<g id="n-res-r3"><rect class="r" x="68" y="478" width="49" height="7" rx="1.5"/><text class="rt" x="70" y="482.9">WS-Notification</text></g>
<g id="n-rp-r1"><rect class="r" x="63" y="496" width="46" height="13" rx="1.5"/><text class="rt" x="65" y="501.2">WS-BaseFaults<tspan x="65" dy="5">WS-ServiceGroup</tspan></text></g>
<g id="n-rp-s"><rect class="f" x="71" y="512" width="33" height="7" rx="2"/><text class="sm" x="87.5" y="517">WS-Resource</text></g>
<g id="n-rp"><rect class="d" x="19" y="541" width="138" height="35" rx="3"/><text class="t" x="88" y="548.5">WS-ResourceProperties</text><text class="x" x="88" y="553.5">Version 1.2 (2006)<tspan x="88" dy="4.5">OASIS</tspan><tspan x="88" dy="4.5">Spezifiziert, wie Daten einer zustandsbehafteten Ressource</tspan><tspan x="88" dy="4.5">über eine Web Service Schnittstelle abgefragt</tspan><tspan x="88" dy="4.5">und verändert werden können</tspan></text></g>
<g id="n-rp-r2"><rect class="r" x="73" y="579" width="67" height="30" rx="1.5"/><text class="rt" x="75" y="584.3">WS-BaseNotification<tspan x="75" dy="5.6">WS-ResourceLifetime</tspan><tspan x="75" dy="5.6">WS-Resource</tspan><tspan x="75" dy="5.6">WS-ServiceGroup</tspan><tspan x="75" dy="5.6">WSDM Management using WS</tspan></text></g>
<g id="n-rp-r3"><rect class="r" x="73" y="611" width="49" height="7" rx="1.5"/><text class="rt" x="75" y="615.9">WS-Notification</text></g>
<g id="n-rl-r0"><rect class="r" x="218" y="353" width="31" height="8" rx="1.5"/><text class="rt" x="220" y="358.4">WS-Security</text></g>
<g id="n-rl-s"><rect class="f" x="218" y="365" width="34" height="8" rx="2"/><text class="sm" x="235" y="370.6">WS-Resource</text></g>
<g id="n-rl"><rect class="d" x="170" y="393" width="130" height="37" rx="3"/><text class="t" x="235" y="400.5">WS-ResourceLifetime</text><text class="x" x="235" y="405.5">Version 1.2 (2006)<tspan x="235" dy="4.5">OASIS</tspan><tspan x="235" dy="4.5">Beschreibt Mechanismen, mit denen eine WS-Resource</tspan><tspan x="235" dy="4.5">sofort oder zeitgesteuert zerstört werden kann</tspan><tspan x="235" dy="4.5">und wie ihre Lebenszeit überwacht werden kann</tspan></text><text class="u" x="235" y="427">http://docs.oasis-open.org/wsrf/</text></g>
<g id="n-rl-r1"><rect class="r" x="224" y="433" width="69" height="7" rx="1.5"/><text class="rt" x="226" y="437.9">WSDM Management using WS</text></g>
<g id="n-rl-r2"><rect class="r" x="224" y="444" width="55" height="17" rx="1.5"/><text class="rt" x="226" y="449">WS-BaseNotification<tspan x="226" dy="5">WS-ResourceProperties</tspan><tspan x="226" dy="5">WS-ServiceGroup</tspan></text></g>
<g id="n-rl-r3"><rect class="r" x="224" y="465" width="49" height="8" rx="1.5"/><text class="rt" x="226" y="470.4">WS-Notification</text></g>
<g id="n-bf"><rect class="d" x="170" y="481" width="129" height="38" rx="3"/><text class="t" x="234.5" y="488.5">WS-BaseFaults</text><text class="x" x="234.5" y="493.5">Version 1.2 (2006)<tspan x="234.5" dy="4.5">OASIS</tspan><tspan x="234.5" dy="4.5">Definiert einen XML-Schema-Typ für Basisfehler,</tspan><tspan x="234.5" dy="4.5">mit dem Fehlernachrichten von Web Services</tspan><tspan x="234.5" dy="4.5">einheitlich dargestellt werden können</tspan></text><text class="u" x="234.5" y="515.5">http://docs.oasis-open.org/wsrf/</text></g>
<g id="n-bf-r"><rect class="r" x="215" y="521" width="68" height="13" rx="1.5"/><text class="rt" x="217" y="526.2">WS-Resource<tspan x="217" dy="5">WSDM Management using WS</tspan></text></g>
<g id="n-sg-r1"><rect class="r" x="215" y="544" width="29" height="9" rx="1.5"/><text class="rt" x="217" y="549.9">WS-Security</text></g>
<g id="n-sg-r2"><rect class="r" x="215" y="555" width="52" height="18" rx="1.5"/><text class="rt" x="217" y="560.2">WS-BaseFaults<tspan x="217" dy="5.2">WS-ResourceLifetime</tspan><tspan x="217" dy="5.2">WS-ResourceProperties</tspan></text></g>
<g id="n-sg"><rect class="d" x="170" y="577" width="119" height="36" rx="3"/><text class="t" x="229.5" y="584.5">WS-ServiceGroup</text><text class="x" x="229.5" y="589.5">Version 1.2 (2006)<tspan x="229.5" dy="4.5">OASIS</tspan><tspan x="229.5" dy="4.5">Definiert ein Mittel, um Gruppen von Web</tspan><tspan x="229.5" dy="4.5">Services und WS-Resources zu verwalten,</tspan><tspan x="229.5" dy="4.5">z.B. für Registries oder Aggregationen</tspan></text></g>
<g id="n-sg-r3"><rect class="r" x="213" y="616" width="67" height="7" rx="1.5"/><text class="rt" x="215" y="620.9">WSDM Management using WS</text></g>
<g id="n-rt"><rect class="f" x="13" y="638" width="148" height="37" rx="3"/><text class="t" x="87" y="645.5">WS-ResourceTransfer</text><text class="x" x="87" y="650.5">Version 1.0 (2006)<tspan x="87" dy="4.5">HP, IBM, Intel, Microsoft</tspan><tspan x="87" dy="4.5">Definiert Erweiterungen zu WS-Transfer, um</tspan><tspan x="87" dy="4.5">Fragmente einer Ressource zu adressieren</tspan><tspan x="87" dy="4.5">und zu verarbeiten</tspan></text><text class="u" x="87" y="672">http://www.w3.org/Submission/WSRT/</text></g>

<!-- METADATA NODES -->
<g id="n-pol-r"><rect class="r" x="378" y="246" width="52" height="7" rx="1.5"/><text class="rt" x="380" y="250.9">WS-SecurityPolicy</text></g>
<g id="n-policy"><rect class="f" x="329" y="257" width="141" height="30" rx="3"/><text class="t" x="399.5" y="264">WS-Policy</text><text class="x" x="399.5" y="269">Version 1.5 (2007)<tspan x="399.5" dy="4.4">W3C</tspan><tspan x="399.5" dy="4.4">Beschreibt ein allgemeines Modell und eine Syntax für</tspan><tspan x="399.5" dy="4.4">Policies von Web Services (Anforderungen, Fähigkeiten)</tspan></text></g>
<g id="n-pol-s"><rect class="f" x="371" y="309" width="42" height="20" rx="2"/><text class="sm" x="392" y="317">WS-PolicyAttachment<tspan x="392" dy="6">WS-PolicyAssertions</tspan></text></g>
<g id="n-pol-r1"><rect class="r" x="390" y="332" width="52" height="31" rx="1.5"/><text class="rt" x="392" y="337.3">WS-Security<tspan x="392" dy="5.8">WS-SecurityPolicy</tspan><tspan x="392" dy="5.8">WS-Addressing</tspan><tspan x="392" dy="5.8">WS-ReliableMessaging</tspan><tspan x="392" dy="5.8">WS-Trust</tspan></text></g>
<g id="n-pol-r2"><rect class="r" x="390" y="368" width="45" height="6" rx="1.5"/><text class="rt" x="392" y="372.4">WSDL 2.0</text></g>
<g id="n-pol-r3"><rect class="r" x="390" y="378" width="49" height="7" rx="1.5"/><text class="rt" x="392" y="382.9">WS-MetadataExchange</text></g>
<g id="n-insp"><rect class="f" x="332" y="404" width="147" height="37" rx="3"/><text class="t" x="405.5" y="411.5">WS-Inspection</text><text class="x" x="405.5" y="416.5">Version 1.0 (2001)<tspan x="405.5" dy="4.5">IBM, Microsoft</tspan><tspan x="405.5" dy="4.5">Ein XML-Format, das die Inspektion einer Web Site nach</tspan><tspan x="405.5" dy="4.5">verfügbaren Web Services und deren Beschreibungen</tspan><tspan x="405.5" dy="4.5">ermöglicht</tspan></text><text class="u" x="405.5" y="437.5">http://www.ibm.com/developerworks/library/specification/ws-wsilspec/</text></g>
<g id="n-pa-r"><rect class="r" x="551" y="213" width="36" height="8" rx="1.5"/><text class="rt" x="553" y="218.4">WS-Addressing</text></g>
<g id="n-pa-s"><rect class="f" x="570" y="227" width="26" height="8" rx="2"/><text class="sm" x="583" y="232.6">WS-Policy</text></g>
<g id="n-pa"><rect class="f" x="499" y="253" width="169" height="28" rx="3"/><text class="t" x="583.5" y="260">WS-PolicyAttachment</text><text class="x" x="583.5" y="265">Version 1.5 (2007)<tspan x="583.5" dy="4.3">W3C</tspan><tspan x="583.5" dy="4.3">Beschreibt, wie Policies mit Web Service Beschreibungen</tspan><tspan x="583.5" dy="4.3">(WSDL, UDDI) verknüpft werden können</tspan></text></g>
<g id="n-pa-r2"><rect class="r" x="548" y="283" width="51" height="14" rx="1.5"/><text class="rt" x="550" y="288.6">WS-MetadataExchange<tspan x="550" dy="5.4">WS-SecurityPolicy</tspan></text></g>
<g id="n-pas-r"><rect class="r" x="565" y="327" width="28" height="12" rx="1.5"/><text class="rt" x="567" y="332">WS-Policy<tspan x="567" dy="4.8">WS-Security</tspan></text></g>
<g id="n-pas"><rect class="f" x="499" y="343" width="167" height="30" rx="3"/><text class="t" x="582.5" y="350">WS-PolicyAssertions</text><text class="x" x="582.5" y="355">Version 1.1 (2003)<tspan x="582.5" dy="4.4">IBM, BEA, Microsoft, SAP</tspan><tspan x="582.5" dy="4.4">Definiert allgemeine Policy Assertions für Web Services</tspan><tspan x="582.5" dy="4.4">wie z.B. Zeichensatz, Sprache oder Spezifikationsversion</tspan></text></g>
<g id="n-pas-r2"><rect class="r" x="565" y="375" width="52" height="24" rx="1.5"/><text class="rt" x="567" y="380.2">WS-AtomicTransaction<tspan x="567" dy="5.5">WS-BusinessActivity</tspan><tspan x="567" dy="5.5">WS-Coordination</tspan><tspan x="567" dy="5.5">WS-RM Policy</tspan></text></g>
<g id="n-mex-r1"><rect class="r" x="736" y="211" width="41" height="17" rx="1.5"/><text class="rt" x="738" y="216">WS-Addressing<tspan x="738" dy="5">WS-Security</tspan><tspan x="738" dy="5">WS-SecurityPolicy</tspan></text></g>
<g id="n-mex"><rect class="f" x="686" y="232" width="124" height="36" rx="3"/><text class="t" x="748" y="239.5">WS-MetadataExchange</text><text class="x" x="748" y="244.5">Version 1.1 (2006)<tspan x="748" dy="4.5">W3C Member Submission</tspan><tspan x="748" dy="4.5">Definiert, wie Metadaten (WSDL, XML Schema,</tspan><tspan x="748" dy="4.5">Policy) eines Endpunkts abgefragt werden können</tspan></text><text class="u" x="748" y="264.5">http://www.w3.org/Submission/WS-MetadataExchange/</text></g>
<g id="n-mex-r2"><rect class="r" x="737" y="272" width="53" height="21" rx="1.5"/><text class="rt" x="739" y="277">WS-Discovery<tspan x="739" dy="4.9">WS-Policy</tspan><tspan x="739" dy="4.9">WS-PolicyAttachment</tspan><tspan x="739" dy="4.9">WS-Transfer</tspan></text></g>
<g id="n-disc-r"><rect class="r" x="732" y="310" width="35" height="7" rx="1.5"/><text class="rt" x="734" y="314.9">WS-Addressing</text></g>
<g id="n-disc"><rect class="f" x="687" y="319" width="124" height="42" rx="3"/><text class="t" x="749" y="326.5">WS-Discovery</text><text class="x" x="749" y="331.5">Version 1.0 (2005)<tspan x="749" dy="4.5">Microsoft, BEA, Intel u.a.</tspan><tspan x="749" dy="4.5">Definiert ein Multicast Discovery Protokoll,</tspan><tspan x="749" dy="4.5">um Web Services im lokalen Netzwerk</tspan><tspan x="749" dy="4.5">zu finden und anzukündigen</tspan></text><text class="u" x="749" y="357.5">http://specs.xmlsoap.org/ws/2005/04/discovery/</text></g>
<g id="n-mtom-r"><rect class="r" x="728" y="369" width="51" height="14" rx="1.5"/><text class="rt" x="730" y="374.6">WS-Policy<tspan x="730" dy="5.2">WS-PolicyAttachment</tspan></text></g>
<g id="n-mtom-s"><rect class="f" x="736" y="386" width="27" height="9" rx="2"/><text class="sm" x="749.5" y="392">WS-Policy</text></g>
<g id="n-mtom"><rect class="f" x="687" y="414" width="124" height="38" rx="3"/><text class="t" x="749" y="421.5">WS-MTOMPolicy</text><text class="x" x="749" y="426.5">Version 1.0 (2006)<tspan x="749" dy="4.5">W3C Member Submission</tspan><tspan x="749" dy="4.5">Definiert eine Policy Assertion, um anzuzeigen,</tspan><tspan x="749" dy="4.5">dass ein Endpunkt MTOM unterstützt bzw. verlangt</tspan></text><text class="u" x="749" y="447">http://www.w3.org/Submission/WS-MTOMPolicy/</text></g>

<!-- TRANSACTION NODES -->
<g id="n-at-r"><rect class="r" x="892" y="265" width="57" height="35" rx="1.5"/><text class="rt" x="894" y="269.5">WS-Coordination<tspan x="894" dy="4.2">WS-Policy</tspan><tspan x="894" dy="4.2">WS-PolicyAttachment</tspan><tspan x="894" dy="4.2">WS-SecureConversation</tspan><tspan x="894" dy="4.2">WS-Security</tspan><tspan x="894" dy="4.2">WS-SecurityPolicy</tspan><tspan x="894" dy="4.2">WS-Trust</tspan><tspan x="894" dy="4.2">WS-Addressing</tspan></text></g>
<g id="n-at"><rect class="f" x="843" y="307" width="128" height="33" rx="3"/><text class="t" x="907" y="314.5">WS-AtomicTransaction</text><text class="x" x="907" y="319.5">Version 1.1 (2007)<tspan x="907" dy="4.5">OASIS</tspan><tspan x="907" dy="4.5">Definiert ein Koordinationsprotokoll für</tspan><tspan x="907" dy="4.5">atomare Transaktionen (Two-Phase-Commit)</tspan></text><text class="u" x="907" y="337">http://docs.oasis-open.org/ws-tx/</text></g>
<g id="n-ba-r"><rect class="r" x="892" y="350" width="57" height="35" rx="1.5"/><text class="rt" x="894" y="354.5">WS-Coordination<tspan x="894" dy="4.2">WS-Policy</tspan><tspan x="894" dy="4.2">WS-PolicyAttachment</tspan><tspan x="894" dy="4.2">WS-SecureConversation</tspan><tspan x="894" dy="4.2">WS-Security</tspan><tspan x="894" dy="4.2">WS-SecurityPolicy</tspan><tspan x="894" dy="4.2">WS-Trust</tspan><tspan x="894" dy="4.2">WS-Addressing</tspan></text></g>
<g id="n-ba"><rect class="f" x="843" y="390" width="128" height="32" rx="3"/><text class="t" x="907" y="397.5">WS-BusinessActivity</text><text class="x" x="907" y="402.5">Version 1.1 (2007)<tspan x="907" dy="4.5">OASIS</tspan><tspan x="907" dy="4.5">Definiert Koordinationsprotokolle für</tspan><tspan x="907" dy="4.5">langlaufende Geschäftsaktivitäten</tspan></text><text class="u" x="907" y="419.5">http://docs.oasis-open.org/ws-tx/</text></g>
<g id="n-ba-r2"><rect class="r" x="885" y="424" width="28" height="7" rx="1.5"/><text class="rt" x="887" y="428.9">WS-BPEL</text></g>
<g id="n-txm-r"><rect class="r" x="1176" y="249" width="63" height="14" rx="1.5"/><text class="rt" x="1178" y="254.6">WS-CoordinationFramework<tspan x="1178" dy="5.2">WS-Context</tspan></text></g>
<g id="n-txm"><rect class="d" x="1151" y="283" width="112" height="37" rx="3"/><text class="t" x="1207" y="290.5" textLength="106" lengthAdjust="spacingAndGlyphs">WS-TransactionManagement (WS-TXM)</text><text class="x" x="1207" y="295.5">Version 1.0 (2003)<tspan x="1207" dy="4.5">Arjuna, Fujitsu, IONA, Oracle, Sun</tspan><tspan x="1207" dy="4.5">Definiert Transaktionsprotokolle</tspan><tspan x="1207" dy="4.5">auf Basis von WS-CF und WS-CTX</tspan></text><text class="u" x="1207" y="316.5">http://www.oasis-open.org/committees/ws-caf/</text></g>
<g id="n-ctx"><rect class="d" x="989" y="307" width="136" height="47" rx="3"/><text class="t" x="1057" y="314.5">WS-Context (WS-CTX)</text><text class="x" x="1057" y="319.5">Version 1.0 (2007)<tspan x="1057" dy="4.5">OASIS</tspan><tspan x="1057" dy="4.5">Definiert ein Modell zur Verwaltung von Kontext-</tspan><tspan x="1057" dy="4.5">informationen, die zwischen mehreren Web Services</tspan><tspan x="1057" dy="4.5">geteilt werden, etwa im Rahmen einer</tspan><tspan x="1057" dy="4.5">Geschäftsaktivität oder Transaktion</tspan></text><text class="u" x="1057" y="349.5">http://docs.oasis-open.org/ws-caf/</text></g>
<g id="n-ctx-r"><rect class="r" x="1025" y="377" width="64" height="13" rx="1.5"/><text class="rt" x="1027" y="382.2">WS-CoordinationFramework<tspan x="1027" dy="5">WS-TransactionManagement</tspan></text></g>
<g id="n-cf-r"><rect class="r" x="1195" y="331" width="31" height="8" rx="1.5"/><text class="rt" x="1197" y="336.4">WS-Context</text></g>
<g id="n-cf"><rect class="d" x="1136" y="358" width="151" height="39" rx="3"/><text class="t" x="1211.5" y="365.5">WS-Coordination Framework (WS-CF)</text><text class="x" x="1211.5" y="370.5">Version 1.0 (2003)<tspan x="1211.5" dy="4.5">Arjuna, Fujitsu, IONA, Oracle, Sun</tspan><tspan x="1211.5" dy="4.5">Definiert einen Koordinator, der die Ergebnisse mehrerer</tspan><tspan x="1211.5" dy="4.5">Web Services koordiniert und Teilnehmer registriert</tspan></text><text class="u" x="1211.5" y="392">http://www.oasis-open.org/committees/ws-caf/</text></g>
<g id="n-coord-r1"><rect class="r" x="1345" y="249" width="54" height="33" rx="1.5"/><text class="rt" x="1347" y="254">WS-Addressing<tspan x="1347" dy="5.2">WS-Policy</tspan><tspan x="1347" dy="5.2">WS-SecureConversation</tspan><tspan x="1347" dy="5.2">WS-Security</tspan><tspan x="1347" dy="5.2">WS-SecurityPolicy</tspan><tspan x="1347" dy="5.2">WS-Trust</tspan></text></g>
<g id="n-coord"><rect class="f" x="1299" y="285" width="116" height="36" rx="3"/><text class="t" x="1357" y="292.5">WS-Coordination</text><text class="x" x="1357" y="297.5">Version 1.1 (2007)<tspan x="1357" dy="4.5">OASIS</tspan><tspan x="1357" dy="4.5">Ein erweiterbares Framework, um Protokolle</tspan><tspan x="1357" dy="4.5">bereitzustellen, die Aktionen verteilter</tspan><tspan x="1357" dy="4.5">Anwendungen koordinieren</tspan></text></g>
<g id="n-coord-r2"><rect class="r" x="1343" y="325" width="48" height="18" rx="1.5"/><text class="rt" x="1345" y="330.2">WS-AtomicTransaction<tspan x="1345" dy="5.2">WS-BusinessActivity</tspan><tspan x="1345" dy="5.2">WS-BPEL</tspan></text></g>
<g id="n-coord-r3"><rect class="r" x="1343" y="345" width="49" height="8" rx="1.5"/><text class="rt" x="1345" y="350.4">WS-I Basic Profile</text></g>

<!-- SECURITY NODES -->
<g id="n-x509"><rect class="f" x="341" y="556" width="120" height="36" rx="3"/><text class="t" x="401" y="563.5">WSS-X.509 Token Profile</text><text class="x" x="401" y="568.5">Version 1.1 (2006)<tspan x="401" dy="4.5">OASIS</tspan><tspan x="401" dy="4.5">Beschreibt die Verwendung von X.509</tspan><tspan x="401" dy="4.5">Zertifikaten mit der WS-Security Spezifikation</tspan></text><text class="u" x="401" y="588">http://docs.oasis-open.org/wss/</text></g>
<g id="n-x509-r"><rect class="r" x="388" y="595" width="57" height="14" rx="1.5"/><text class="rt" x="390" y="600.6">WS-Security<tspan x="390" dy="5.2">WS-I Basic Security Profile</tspan></text></g>
<g id="n-user"><rect class="f" x="341" y="619" width="120" height="32" rx="3"/><text class="t" x="401" y="626.5">WSS-Username Token Profile</text><text class="x" x="401" y="631.5">Version 1.1 (2006)<tspan x="401" dy="4.5">OASIS</tspan><tspan x="401" dy="4.5">Beschreibt die Verwendung von Benutzername</tspan><tspan x="401" dy="4.5">und Passwort mit WS-Security</tspan></text><text class="u" x="401" y="648.5">http://docs.oasis-open.org/wss/</text></g>
<g id="n-user-r"><rect class="r" x="388" y="660" width="56" height="12" rx="1.5"/><text class="rt" x="390" y="665">WS-Security<tspan x="390" dy="4.8">WS-I Basic Security Profile</tspan></text></g>
<g id="n-rel"><rect class="f" x="338" y="680" width="195" height="31" rx="3"/><text class="t" x="435.5" y="687.5">WSS-Rights Expression Language Token Profile</text><text class="x" x="435.5" y="692.5">Version 1.1 (2006)<tspan x="435.5" dy="4.5">OASIS</tspan><tspan x="435.5" dy="4.5">Beschreibt die Verwendung von ISO/IEC 21000-5 Rights Expressions</tspan><tspan x="435.5" dy="4.5">mit der WS-Security Spezifikation</tspan></text></g>
<g id="n-rel-r2"><rect class="r" x="384" y="714" width="51" height="7" rx="1.5"/><text class="rt" x="386" y="718.9">WS-I REL Token Profile</text></g>
<g id="n-wss"><rect class="f" x="511" y="531" width="128" height="37" rx="3"/><text class="t" x="575" y="538.5">WS-Security</text><text class="x" x="575" y="543.5">Version 1.1 (2006)<tspan x="575" dy="4.5">OASIS</tspan><tspan x="575" dy="4.5">Beschreibt Erweiterungen für SOAP zum Schutz</tspan><tspan x="575" dy="4.5">der Nachrichtenintegrität und Vertraulichkeit</tspan><tspan x="575" dy="4.5">über Signaturen und Verschlüsselung</tspan></text><text class="u" x="575" y="564.5">http://docs.oasis-open.org/wss/</text></g>
<g id="n-wss-s"><rect class="f" x="547" y="589" width="55" height="21" rx="2"/><text class="sm" x="574.5" y="595">WS-SecureConversation<tspan x="574.5" dy="5.8">WS-SecurityPolicy</tspan><tspan x="574.5" dy="5.8">WS-Trust</tspan></text></g>
<g id="n-wss-r1"><rect class="r" x="570" y="613" width="57" height="47" rx="1.5"/><text class="rt" x="572" y="617.6">WS-Atomic Transaction<tspan x="572" dy="5">WS-BusinessActivity</tspan><tspan x="572" dy="5">WS-Coordination</tspan><tspan x="572" dy="5">WS-Federation</tspan><tspan x="572" dy="5">WS-Management</tspan><tspan x="572" dy="5">WS-MetadataExchange</tspan><tspan x="572" dy="5">WS-ReliableMessaging</tspan><tspan x="572" dy="5">WS-SecurityPolicy</tspan><tspan x="572" dy="5">WSS-SwA Profile</tspan></text></g>
<g id="n-wss-r2"><rect class="r" x="571" y="664" width="46" height="6" rx="1.5"/><text class="rt" x="573" y="668.4">SOAP/WS-Addressing</text></g>
<g id="n-wss-r3"><rect class="r" x="571" y="674" width="61" height="18" rx="1.5"/><text class="rt" x="573" y="679">WS-Addressing<tspan x="573" dy="5">WS-Enumeration</tspan><tspan x="573" dy="5">WSDM Management of WS</tspan></text></g>
<g id="n-wss-r4"><rect class="r" x="571" y="695" width="47" height="28" rx="1.5"/><text class="rt" x="573" y="700">WS-Coordination<tspan x="573" dy="5.3">WS-Management</tspan><tspan x="573" dy="5.3">WS-ReliableMessaging</tspan><tspan x="573" dy="5.3">WS-Reliability</tspan><tspan x="573" dy="5.3">WS-Transfer</tspan></text></g>
<g id="n-kerb"><rect class="d" x="657" y="538" width="125" height="31" rx="3"/><text class="t" x="719.5" y="545.5">WSS-Kerberos Token Profile</text><text class="x" x="719.5" y="550.5">Version 1.1 (2006)<tspan x="719.5" dy="4.5">OASIS</tspan><tspan x="719.5" dy="4.5">Beschreibt die Verwendung von Kerberos Tokens</tspan><tspan x="719.5" dy="4.5">mit der WS-Security Spezifikation</tspan></text></g>
<g id="n-kerb-r"><rect class="r" x="707" y="572" width="61" height="12" rx="1.5"/><text class="rt" x="709" y="577">WS-Security<tspan x="709" dy="4.8">WS-I Kerberos Token Profile</tspan></text></g>
<g id="n-swa-r"><rect class="r" x="701" y="598" width="28" height="7" rx="1.5"/><text class="rt" x="703" y="602.9">WS-Security</text></g>
<g id="n-swa"><rect class="d" x="658" y="609" width="115" height="40" rx="3"/><text class="t" x="715.5" y="616.5">WSS-SwA Profile</text><text class="x" x="715.5" y="621.5">Version 1.1 (2006)<tspan x="715.5" dy="4.5">OASIS</tspan><tspan x="715.5" dy="4.5">Beschreibt, wie SOAP Nachrichten mit</tspan><tspan x="715.5" dy="4.5">Attachments gemäß WS-Security</tspan><tspan x="715.5" dy="4.5">geschützt werden können</tspan></text><text class="u" x="715.5" y="645">http://docs.oasis-open.org/wss/</text></g>
<g id="n-swa-r2"><rect class="r" x="698" y="653" width="59" height="7" rx="1.5"/><text class="rt" x="700" y="657.9">WS-I Basic Security Profile</text></g>
<g id="n-samlp"><rect class="d" x="660" y="671" width="112" height="37" rx="3"/><text class="t" x="716" y="678.5">WSS-SAML Token Profile</text><text class="x" x="716" y="683.5">Version 1.1 (2006)<tspan x="716" dy="4.5">OASIS</tspan><tspan x="716" dy="4.5">Beschreibt die Verwendung von SAML</tspan><tspan x="716" dy="4.5">Assertions mit der WS-Security</tspan><tspan x="716" dy="4.5">Spezifikation</tspan></text></g>
<g id="n-samlp-r"><rect class="r" x="707" y="710" width="56" height="12" rx="1.5"/><text class="rt" x="709" y="715">WS-Security<tspan x="709" dy="4.8">WS-I SAML Token Profile</tspan></text></g>
<g id="n-trust-r"><rect class="r" x="856" y="471" width="41" height="18" rx="1.5"/><text class="rt" x="858" y="476.2">WS-Addressing<tspan x="858" dy="5.2">WS-Policy</tspan><tspan x="858" dy="5.2">WS-SecurityPolicy</tspan></text></g>
<g id="n-trust-s"><rect class="f" x="855" y="494" width="31" height="9" rx="2"/><text class="sm" x="870.5" y="500">WS-Security</text></g>
<g id="n-trust"><rect class="f" x="818" y="523" width="107" height="42" rx="3"/><text class="t" x="871.5" y="530.5">WS-Trust</text><text class="x" x="871.5" y="535.5">Version 1.3 (2007)<tspan x="871.5" dy="4.5">OASIS</tspan><tspan x="871.5" dy="4.5">Beschreibt ein Modell zum Ausstellen,</tspan><tspan x="871.5" dy="4.5">Erneuern und Validieren von Tokens</tspan><tspan x="871.5" dy="4.5">und zum Aufbau von Vertrauen</tspan></text><text class="u" x="871.5" y="561.5">http://docs.oasis-open.org/ws-sx/</text></g>
<g id="n-trust-s2"><rect class="f" x="844" y="579" width="52" height="13" rx="2"/><text class="sm" x="870" y="584.5">WS-Federation<tspan x="870" dy="5">WS-SecureConversation</tspan></text></g>
<g id="n-trust-r2"><rect class="r" x="857" y="595" width="60" height="26" rx="1.5"/><text class="rt" x="859" y="599.8">WS-Atomic Transaction<tspan x="859" dy="5">WS-BusinessActivity</tspan><tspan x="859" dy="5">WS-Coordination</tspan><tspan x="859" dy="5">WS-Management</tspan><tspan x="859" dy="5">WS-ReliableMessaging</tspan></text></g>
<g id="n-trust-r3"><rect class="r" x="857" y="625" width="58" height="13" rx="1.5"/><text class="rt" x="859" y="630.2">WS-Addressing<tspan x="859" dy="5">WS-Transfer</tspan></text></g>
<g id="n-sc-s"><rect class="f" x="1155" y="486" width="32" height="13" rx="2"/><text class="sm" x="1171" y="491.4">WS-Security<tspan x="1171" dy="5">WS-Trust</tspan></text></g>
<g id="n-sc"><rect class="f" x="1108" y="518" width="126" height="38" rx="3"/><text class="t" x="1171" y="525.5">WS-SecureConversation</text><text class="x" x="1171" y="530.5">Version 1.3 (2007)<tspan x="1171" dy="4.5">OASIS</tspan><tspan x="1171" dy="4.5">Definiert Erweiterungen zu WS-Security zur</tspan><tspan x="1171" dy="4.5">Einrichtung und gemeinsamen Nutzung</tspan><tspan x="1171" dy="4.5">von Sicherheitskontexten</tspan></text><text class="u" x="1171" y="552.5">http://docs.oasis-open.org/ws-sx/</text></g>
<g id="n-sc-r1"><rect class="r" x="1162" y="559" width="52" height="32" rx="1.5"/><text class="rt" x="1164" y="564">WS-Atomic Transaction<tspan x="1164" dy="5">WS-BusinessActivity</tspan><tspan x="1164" dy="5">WS-Coordination</tspan><tspan x="1164" dy="5">WS-Management</tspan><tspan x="1164" dy="5">WS-ReliableMessaging</tspan><tspan x="1164" dy="5">WS-Transfer</tspan></text></g>
<g id="n-sc-r2"><rect class="r" x="1162" y="595" width="51" height="27" rx="1.5"/><text class="rt" x="1164" y="599.8">WS-Addressing<tspan x="1164" dy="5">WS-Policy</tspan><tspan x="1164" dy="5">WS-SecurityPolicy</tspan><tspan x="1164" dy="5">WS-Federation</tspan><tspan x="1164" dy="5">WS-MetadataExchange</tspan></text></g>
<g id="n-sc-r3"><rect class="r" x="1162" y="626" width="96" height="6" rx="1.5"/><text class="rt" x="1164" y="630.4">WS-I Reliable Asynchronous Messaging Profile</text></g>
<g id="n-sp-r1"><rect class="r" x="1327" y="493" width="65" height="38" rx="1.5"/><text class="rt" x="1329" y="497.8">WS-Atomic Transaction<tspan x="1329" dy="5.1">WS-BusinessActivity</tspan><tspan x="1329" dy="5.1">WS-Coordination</tspan><tspan x="1329" dy="5.1">WS-Management</tspan><tspan x="1329" dy="5.1">WS-ReliableMessaging</tspan><tspan x="1329" dy="5.1">WS-Federation</tspan><tspan x="1329" dy="5.1">WS-MetadataExchange</tspan></text></g>
<g id="n-sp"><rect class="f" x="1282" y="533" width="118" height="38" rx="3"/><text class="t" x="1341" y="540.5">WS-SecurityPolicy</text><text class="x" x="1341" y="545.5">Version 1.2 (2007)<tspan x="1341" dy="4.5">OASIS</tspan><tspan x="1341" dy="4.5">Definiert Policy Assertions für die</tspan><tspan x="1341" dy="4.5">Sicherheitsanforderungen und</tspan><tspan x="1341" dy="4.5">-fähigkeiten von Web Services</tspan></text><text class="u" x="1341" y="567.5">http://docs.oasis-open.org/ws-sx/</text></g>
<g id="n-sp-r2"><rect class="r" x="1337" y="574" width="51" height="31" rx="1.5"/><text class="rt" x="1339" y="578.8">WS-Policy<tspan x="1339" dy="5">WS-PolicyAttachment</tspan><tspan x="1339" dy="5">WS-Security</tspan><tspan x="1339" dy="5">WS-SecureConversation</tspan><tspan x="1339" dy="5">WS-Trust</tspan><tspan x="1339" dy="5">WS-Addressing</tspan></text></g>
<g id="n-sp-r3"><rect class="r" x="1337" y="609" width="49" height="7" rx="1.5"/><text class="rt" x="1339" y="613.9">WS-ReliableMessaging</text></g>
<g id="n-sp-r4"><rect class="r" x="1337" y="621" width="25" height="8" rx="1.5"/><text class="rt" x="1339" y="626.4">WS-Policy</text></g>
<g id="n-fa"><rect class="f" x="822" y="669" width="101" height="42" rx="3"/><text class="t" x="872.5" y="676.5">WS-FederationActive</text><text class="x" x="872.5" y="681.5">Version 1.0 (2003)<tspan x="872.5" dy="4.5">IBM, Microsoft</tspan><tspan x="872.5" dy="4.5">Definiert, wie Federation-</tspan><tspan x="872.5" dy="4.5">Mechanismen für aktive</tspan><tspan x="872.5" dy="4.5">Requestoren eingesetzt werden</tspan></text><text class="u" x="872.5" y="707">http://www.ibm.com/developerworks/</text></g>
<g id="n-fed-r"><rect class="r" x="1017" y="607" width="58" height="18" rx="1.5"/><text class="rt" x="1019" y="612">WS-MetadataExchange<tspan x="1019" dy="5">WS-Policy</tspan><tspan x="1019" dy="5">WS-Transfer</tspan></text></g>
<g id="n-fed-s"><rect class="f" x="1026" y="629" width="26" height="20" rx="2"/><text class="sm" x="1039" y="634.5">WS-Policy<tspan x="1039" dy="5.8">WS-Security</tspan><tspan x="1039" dy="5.8">WS-Trust</tspan></text></g>
<g id="n-fed"><rect class="f" x="964" y="665" width="149" height="49" rx="3"/><text class="t" x="1038.5" y="672.5">WS-Federation</text><text class="x" x="1038.5" y="677.5">Version 1.1 (2006)<tspan x="1038.5" dy="4.5">IBM, Microsoft u.a.</tspan><tspan x="1038.5" dy="4.5">Definiert Mechanismen, die es unterschiedlichen Security</tspan><tspan x="1038.5" dy="4.5">Realms ermöglichen, Informationen über Identitäten,</tspan><tspan x="1038.5" dy="4.5">Attribute und Authentifizierung auszutauschen</tspan><tspan x="1038.5" dy="4.5">(Identity Federation)</tspan></text><text class="u" x="1038.5" y="709.5">http://www.ibm.com/developerworks/library/specification/ws-fed/</text></g>
<g id="n-fed-r2"><rect class="r" x="1022" y="718" width="49" height="7" rx="1.5"/><text class="rt" x="1024" y="722.9">Federation Metadata</text></g>
<g id="n-fp"><rect class="f" x="1155" y="670" width="89" height="45" rx="3"/><text class="t" x="1199.5" y="677.5">WS-FederationPassive</text><text class="x" x="1199.5" y="682.5">Version 1.0 (2003)<tspan x="1199.5" dy="4.5">IBM, Microsoft</tspan><tspan x="1199.5" dy="4.5">Definiert, wie Federation-</tspan><tspan x="1199.5" dy="4.5">Mechanismen von Web-</tspan><tspan x="1199.5" dy="4.5">Browsern genutzt werden</tspan></text><text class="u" x="1199.5" y="709">http://www.ibm.com/developerworks/</text></g>

<!-- MESSAGING NODES -->
<g id="n-top-r1"><rect class="r" x="63" y="814" width="49" height="11" rx="1.5"/><text class="rt" x="65" y="818.6">WS-BaseNotification<tspan x="65" dy="4.4">PubSub Whitepaper</tspan></text></g>
<g id="n-top-r2"><rect class="r" x="63" y="829" width="39" height="7" rx="1.5"/><text class="rt" x="65" y="833.9">WS-Resource</text></g>
<g id="n-topics"><rect class="d" x="23" y="839" width="109" height="36" rx="3"/><text class="t" x="77.5" y="846.5">WS-Topics</text><text class="x" x="77.5" y="851.5">Version 1.3 (2006)<tspan x="77.5" dy="4.5">OASIS</tspan><tspan x="77.5" dy="4.5">Definiert Mechanismen zur Organisation</tspan><tspan x="77.5" dy="4.5">und Kategorisierung von Themen</tspan></text><text class="u" x="77.5" y="871">http://docs.oasis-open.org/wsn/</text></g>
<g id="n-top-r3"><rect class="r" x="63" y="878" width="55" height="17" rx="1.5"/><text class="rt" x="65" y="883">WS-BaseNotification<tspan x="65" dy="5">WS-BrokeredNotification</tspan><tspan x="65" dy="5">WS-ResourceProperties</tspan></text></g>
<g id="n-ps-r1"><rect class="r" x="197" y="770" width="55" height="27" rx="1.5"/><text class="rt" x="199" y="775">WS-Addressing<tspan x="199" dy="5.1">WS-Policy</tspan><tspan x="199" dy="5.1">WS-ResourceProperties</tspan><tspan x="199" dy="5.1">WS-SecureConversation</tspan><tspan x="199" dy="5.1">WS-Trust</tspan></text></g>
<g id="n-ps-r2"><rect class="r" x="197" y="802" width="55" height="32" rx="1.5"/><text class="rt" x="199" y="807">WS-Addressing<tspan x="199" dy="5">WS-Topics</tspan><tspan x="199" dy="5">WS-Resource</tspan><tspan x="199" dy="5">WS-ResourceLifetime</tspan><tspan x="199" dy="5">WS-ResourceProperties</tspan><tspan x="199" dy="5">WS-Security</tspan></text></g>
<g id="n-pubsub"><rect class="f" x="139" y="839" width="139" height="36" rx="3"/><text class="t" x="208.5" y="846.5">PubSub Whitepaper</text><text class="x" x="208.5" y="851.5">Version 1.0 (2004)<tspan x="208.5" dy="4.5">IBM, HP, Globus u.a.</tspan><tspan x="208.5" dy="4.5">Ein Whitepaper, das die Konzepte für das Publish/</tspan><tspan x="208.5" dy="4.5">Subscribe Muster für Web Services vorstellt</tspan></text><text class="u" x="208.5" y="871">http://www.ibm.com/developerworks/library/ws-pubsub/</text></g>
<g id="n-ps-r3"><rect class="r" x="188" y="879" width="57" height="16" rx="1.5"/><text class="rt" x="190" y="883.6">WS-BaseNotification<tspan x="190" dy="4.8">WS-BrokeredNotification</tspan><tspan x="190" dy="4.8">WS-Topics</tspan></text></g>
<g id="n-bn-r1"><rect class="r" x="338" y="764" width="48" height="7" rx="1.5"/><text class="rt" x="340" y="768.9">PubSub Whitepaper</text></g>
<g id="n-bn-r2"><rect class="r" x="338" y="775" width="54" height="22" rx="1.5"/><text class="rt" x="340" y="780">WS-Addressing<tspan x="340" dy="5">WS-ResourceLifetime</tspan><tspan x="340" dy="5">WS-ResourceProperties</tspan><tspan x="340" dy="5">WS-Topics</tspan></text></g>
<g id="n-bn"><rect class="d" x="287" y="800" width="123" height="39" rx="3"/><text class="t" x="348.5" y="807.5">WS-BaseNotification</text><text class="x" x="348.5" y="812.5">Version 1.3 (2006)<tspan x="348.5" dy="4.5">OASIS</tspan><tspan x="348.5" dy="4.5">Definiert die Basisrollen und Nachrichten für</tspan><tspan x="348.5" dy="4.5">Notification Producer und Consumer, mit denen</tspan><tspan x="348.5" dy="4.5">Ereignisse abonniert und zugestellt werden</tspan></text><text class="u" x="348.5" y="835.5">http://docs.oasis-open.org/wsn/</text></g>
<g id="n-bn-s"><rect class="d" x="321" y="861" width="56" height="8" rx="2"/><text class="sm" x="349" y="866.6">WS-BrokeredNotification</text></g>
<g id="n-bn-r3"><rect class="r" x="335" y="871" width="67" height="14" rx="1.5"/><text class="rt" x="337" y="876.5">WSDM Management using WS<tspan x="337" dy="5.2">WS-Eventing</tspan></text></g>
<g id="n-bn-r4"><rect class="r" x="335" y="888" width="28" height="7" rx="1.5"/><text class="rt" x="337" y="892.9">WS-Topics</text></g>
<g id="n-brn-r1"><rect class="r" x="463" y="799" width="48" height="7" rx="1.5"/><text class="rt" x="465" y="803.9">PubSub Whitepaper</text></g>
<g id="n-brn-r2"><rect class="r" x="463" y="810" width="53" height="17" rx="1.5"/><text class="rt" x="465" y="815">WS-ResourceLifetime<tspan x="465" dy="5">WS-ResourceProperties</tspan><tspan x="465" dy="5">WS-Topics</tspan></text></g>
<g id="n-brn-s"><rect class="d" x="421" y="831" width="74" height="8" rx="2"/><text class="sm" x="458" y="836.6">WS-BaseNotification</text></g>
<g id="n-brn"><rect class="d" x="418" y="859" width="108" height="38" rx="3"/><text class="t" x="472" y="866.5">WS-BrokeredNotification</text><text class="x" x="472" y="871.5">Version 1.3 (2006)<tspan x="472" dy="4.5">OASIS</tspan><tspan x="472" dy="4.5">Definiert die Schnittstelle für</tspan><tspan x="472" dy="4.5">Notification Broker, die zwischen</tspan><tspan x="472" dy="4.5">Producer und Consumer vermitteln</tspan></text><text class="u" x="472" y="893.5">http://docs.oasis-open.org/wsn/</text></g>
<g id="n-wsa-r1"><rect class="r" x="593" y="754" width="30" height="8" rx="1.5"/><text class="rt" x="595" y="759.4">WS-Security</text></g>
<g id="n-wsa"><rect class="f" x="549" y="765" width="108" height="39" rx="3"/><text class="t" x="603" y="772.5">WS-Addressing</text><text class="x" x="603" y="777.5">Version 1.0 (2006)<tspan x="603" dy="4.5">W3C Recommendation</tspan><tspan x="603" dy="4.5">Stellt Mechanismen bereit, um Web</tspan><tspan x="603" dy="4.5">Services und Nachrichten transport-</tspan><tspan x="603" dy="4.5">neutral zu adressieren</tspan></text><text class="u" x="603" y="800.5">http://www.w3.org/2002/ws/addr/</text></g>
<g id="n-wsa-r2"><rect class="r" x="594" y="807" width="67" height="62" rx="1.5"/><text class="rt" x="596" y="811.6">WS-BPEL<tspan x="596" dy="5.1">WS-BaseNotification</tspan><tspan x="596" dy="5.1">WS-Coordination</tspan><tspan x="596" dy="5.1">WS-Discovery</tspan><tspan x="596" dy="5.1">WS-Eventing</tspan><tspan x="596" dy="5.1">WS-Management</tspan><tspan x="596" dy="5.1">WSDM Management using WS</tspan><tspan x="596" dy="5.1">WS-MetadataExchange</tspan><tspan x="596" dy="5.1">WS-ResourceTransfer</tspan><tspan x="596" dy="5.1">WS-ReliableMessaging</tspan><tspan x="596" dy="5.1">WS-Transfer</tspan><tspan x="596" dy="5.1">WS-Trust</tspan></text></g>
<g id="n-wsa-r3"><rect class="r" x="593" y="875" width="96" height="9" rx="1.5"/><text class="rt" x="595" y="880.9">WS-I Reliable Asynchronous Messaging Profile</text></g>
<g id="n-wsa-r4"><rect class="r" x="593" y="892" width="49" height="8" rx="1.5"/><text class="rt" x="595" y="897.4">WS-MessageDelivery</text></g>
<g id="n-md"><rect class="f" x="700" y="814" width="148" height="36" rx="3"/><text class="t" x="774" y="821.5">WS-Message Delivery</text><text class="x" x="774" y="826.5">Version 1.0 (2004)<tspan x="774" dy="4.5">W3C Member Submission</tspan><tspan x="774" dy="4.5">Definiert Mechanismen zur Adressierung von Nachrichten</tspan><tspan x="774" dy="4.5">und Endpunkten für asynchrone Kommunikation</tspan></text><text class="u" x="774" y="845.5">http://www.w3.org/Submission/ws-messagedelivery/</text></g>
<g id="n-ev-r1"><rect class="r" x="900" y="790" width="55" height="22" rx="1.5"/><text class="rt" x="902" y="795">WS-Addressing<tspan x="902" dy="5">WS-SecureConversation</tspan><tspan x="902" dy="5">WS-Security</tspan><tspan x="902" dy="5">WS-Trust</tspan></text></g>
<g id="n-ev"><rect class="f" x="859" y="815" width="144" height="33" rx="3"/><text class="t" x="931" y="822.5">WS-Eventing</text><text class="x" x="931" y="827.5">W3C Member Submission (2006)<tspan x="931" dy="4.5">Microsoft, IBM, BEA u.a.</tspan><tspan x="931" dy="4.5">Beschreibt ein Protokoll, mit dem Web Services</tspan><tspan x="931" dy="4.5">Ereignisse anderer Web Services abonnieren können</tspan></text><text class="u" x="931" y="845">http://www.w3.org/Submission/WS-Eventing/</text></g>
<g id="n-ev-r2"><rect class="r" x="900" y="852" width="41" height="7" rx="1.5"/><text class="rt" x="902" y="856.9">WS-Management</text></g>
<g id="n-en-r1"><rect class="r" x="1066" y="790" width="55" height="15" rx="1.5"/><text class="rt" x="1068" y="795.8">WS-SecureConversation<tspan x="1068" dy="5.4">WS-Security</tspan></text></g>
<g id="n-en"><rect class="f" x="1015" y="812" width="134" height="40" rx="3"/><text class="t" x="1082" y="819.5">WS-Enumeration</text><text class="x" x="1082" y="824.5">W3C Member Submission (2006)<tspan x="1082" dy="4.5">Microsoft, IBM, BEA u.a.</tspan><tspan x="1082" dy="4.5">Beschreibt ein Protokoll, mit dem Datenquellen</tspan><tspan x="1082" dy="4.5">Folgen von Elementen schrittweise an</tspan><tspan x="1082" dy="4.5">Consumer übergeben können</tspan></text><text class="u" x="1082" y="848.5">http://www.w3.org/Submission/WS-Enumeration/</text></g>
<g id="n-en-r2"><rect class="r" x="1068" y="858" width="40" height="7" rx="1.5"/><text class="rt" x="1070" y="862.9">WS-Management</text></g>

<!-- RELIABILITY NODES -->
<g id="n-rel-r1"><rect class="r" x="1269" y="829" width="33" height="7" rx="1.5"/><text class="rt" x="1271" y="833.9">WS-Security</text></g>
<g id="n-reliab"><rect class="f" x="1224" y="844" width="132" height="37" rx="3"/><text class="t" x="1290" y="851.5">WS-Reliability</text><text class="x" x="1290" y="856.5">Version 1.1 (2004)<tspan x="1290" dy="4.5">OASIS</tspan><tspan x="1290" dy="4.5">Definiert ein SOAP-basiertes Protokoll zum</tspan><tspan x="1290" dy="4.5">zuverlässigen Austausch von Nachrichten</tspan><tspan x="1290" dy="4.5">(garantierte Zustellung, keine Duplikate)</tspan></text><text class="u" x="1290" y="877.5">http://docs.oasis-open.org/wsrm/</text></g>
<g id="n-rm-r1"><rect class="r" x="1416" y="765" width="37" height="6" rx="1.5"/><text class="rt" x="1418" y="769.4">WS-Addressing</text></g>
<g id="n-rm-r2"><rect class="r" x="1416" y="780" width="56" height="23" rx="1.5"/><text class="rt" x="1418" y="785">WS-Policy<tspan x="1418" dy="5.2">WS-SecureConversation</tspan><tspan x="1418" dy="5.2">WS-Security</tspan><tspan x="1418" dy="5.2">WS-Trust</tspan></text></g>
<g id="n-rm"><rect class="f" x="1366" y="809" width="127" height="36" rx="3"/><text class="t" x="1429.5" y="816.5">WS-ReliableMessaging</text><text class="x" x="1429.5" y="821.5">Version 1.1 (2007)<tspan x="1429.5" dy="4.5">OASIS</tspan><tspan x="1429.5" dy="4.5">Beschreibt ein Protokoll zur zuverlässigen</tspan><tspan x="1429.5" dy="4.5">Zustellung von Nachrichten auch bei</tspan><tspan x="1429.5" dy="4.5">Fehlern von Komponenten oder Netzwerk</tspan></text></g>
<g id="n-rm-r3"><rect class="r" x="1416" y="859" width="49" height="8" rx="1.5"/><text class="rt" x="1418" y="864.4">WS-SecurityPolicy</text></g>
<g id="n-rm-r4"><rect class="r" x="1416" y="878" width="33" height="7" rx="1.5"/><text class="rt" x="1418" y="882.9">WS-Reliability</text></g>
</svg>
